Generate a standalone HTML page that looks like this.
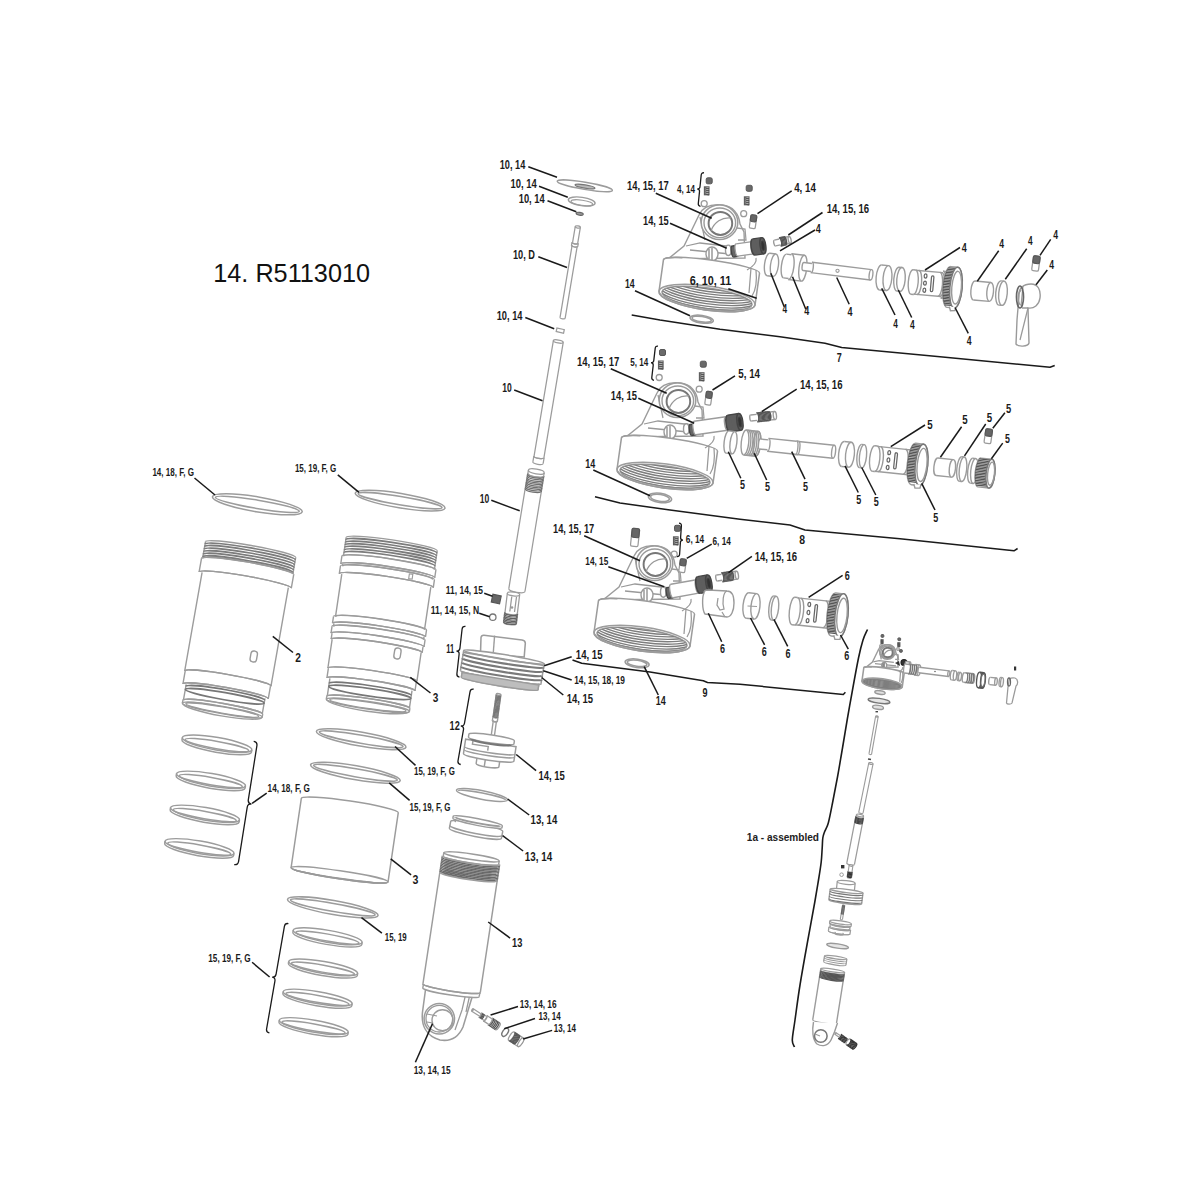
<!DOCTYPE html>
<html><head><meta charset="utf-8"><style>
html,body{margin:0;padding:0;background:#fff;}
svg{display:block;font-family:"Liberation Sans",sans-serif;}
.mini *{vector-effect:non-scaling-stroke;}
</style></head><body>
<svg width="1200" height="1200" viewBox="0 0 1200 1200">
<rect width="1200" height="1200" fill="#fff"/>
<text x="213.3" y="281.7" font-size="25" font-family="Liberation Sans" fill="#111" textLength="156.7" lengthAdjust="spacingAndGlyphs">14. R5113010</text>
<ellipse cx="584.8" cy="185.8" rx="28.0" ry="3.6" transform="rotate(9.5 584.8 185.8)" stroke="#9c9c9c" stroke-width="1.40" fill="none"/>
<ellipse cx="585.0" cy="186.5" rx="10.0" ry="1.6" transform="rotate(9.5 585.0 186.5)" stroke="#777" stroke-width="1.40" fill="#bbb"/>
<ellipse cx="581.7" cy="201.5" rx="13.5" ry="4.2" transform="rotate(8 581.7 201.5)" stroke="#9c9c9c" stroke-width="1.40" fill="none"/>
<ellipse cx="581.9" cy="202.8" rx="11.0" ry="2.6" transform="rotate(8 581.9 202.8)" stroke="#9c9c9c" stroke-width="1.12" fill="none"/>
<ellipse cx="579.7" cy="213.8" rx="3.6" ry="1.4" transform="rotate(10 579.7 213.8)" stroke="#666" stroke-width="1.12" fill="#999"/>
<g transform="translate(577.8,227.0) rotate(9.5)" stroke="#9c9c9c" stroke-width="1.26" fill="none">
<path d="M-2.6,0.0 L-2.6,16.0 L-3.2,16.0 L-3.2,19.0 L-2.6,19.0 L-2.6,92.0 L2.6,92.0 L2.6,19.0 L3.2,19.0 L3.2,16.0 L2.6,16.0 L2.6,0.0 Z" fill="#fff" stroke="none"/>
<ellipse cx="0" cy="0" rx="2.6" ry="1.04" fill="#fff" stroke="none"/>
<ellipse cx="0" cy="92" rx="2.6" ry="1.04" fill="#fff" stroke="none"/>
<ellipse cx="0" cy="0" rx="2.6" ry="1.04"/>
<path d="M-2.6,0 L-2.6,16 M2.6,0 L2.6,16"/>
<path d="M-2.6,16 A2.6,1.04 0 0 0 2.6,16"/>
<path d="M-3.2,16 L-3.2,19 M3.2,16 L3.2,19"/>
<path d="M-3.2,19 A3.2,1.28 0 0 0 3.2,19"/>
<path d="M-3.2,16 A3.2,1.28 0 0 0 3.2,16"/>
<path d="M-2.6,19 L-2.6,92 M2.6,19 L2.6,92"/>
<path d="M-2.6,92 A2.6,1.04 0 0 0 2.6,92"/>
<path d="M-3.2,19 A3.2,1.28 0 0 0 3.2,19"/>
</g>
<rect x="556.5" y="328.8" width="7.5" height="3.6" rx="0" transform="rotate(12 560.2 330.6)" stroke="#9c9c9c" stroke-width="1.26" fill="none"/>
<g transform="translate(558.3,341.5) rotate(9.5)" stroke="#9c9c9c" stroke-width="1.26" fill="none">
<path d="M-5.0,0.0 L-5.0,117.0 L-5.2,117.0 L-5.2,123.0 L5.2,123.0 L5.2,117.0 L5.0,117.0 L5.0,0.0 Z" fill="#fff" stroke="none"/>
<ellipse cx="0" cy="0" rx="5" ry="1.50" fill="#fff" stroke="none"/>
<ellipse cx="0" cy="123" rx="5.2" ry="1.56" fill="#fff" stroke="none"/>
<ellipse cx="0" cy="0" rx="5" ry="1.50"/>
<path d="M-5,0 L-5,117 M5,0 L5,117"/>
<path d="M-5,117 A5,1.50 0 0 0 5,117"/>
<path d="M-5.2,117 L-5.2,123 M5.2,117 L5.2,123"/>
<path d="M-5.2,123 A5.2,1.56 0 0 0 5.2,123"/>
<path d="M-5.2,117 A5.2,1.56 0 0 0 5.2,117"/>
</g>
<g transform="translate(536.3,471.5) rotate(9.3)" stroke="#9c9c9c" stroke-width="1.26" fill="none">
<path d="M-8.0,0.0 L-8.0,3.0 L-8.2,3.0 L-8.2,120.0 L8.2,120.0 L8.2,3.0 L8.0,3.0 L8.0,0.0 Z" fill="#fff" stroke="none"/>
<ellipse cx="0" cy="0" rx="8" ry="2.40" fill="#fff" stroke="none"/>
<ellipse cx="0" cy="120" rx="8.2" ry="2.46" fill="#fff" stroke="none"/>
<ellipse cx="0" cy="0" rx="8" ry="2.40"/>
<path d="M-8,0 L-8,3 M8,0 L8,3"/>
<path d="M-8,3 A8,2.40 0 0 0 8,3"/>
<path d="M-8.2,3 L-8.2,120 M8.2,3 L8.2,120"/>
<path d="M-8.2,120 A8.2,2.46 0 0 0 8.2,120"/>
<path d="M-8.2,3 A8.2,2.46 0 0 0 8.2,3"/>
<path d="M-8.2,4.00 A8.2,2.46 0 0 0 8.2,4.00" stroke="#707070"/>
<path d="M-8.2,5.60 A8.2,2.46 0 0 0 8.2,5.60" stroke="#707070"/>
<path d="M-8.2,7.20 A8.2,2.46 0 0 0 8.2,7.20" stroke="#707070"/>
<path d="M-8.2,8.80 A8.2,2.46 0 0 0 8.2,8.80" stroke="#707070"/>
<path d="M-8.2,10.40 A8.2,2.46 0 0 0 8.2,10.40" stroke="#707070"/>
<path d="M-8.2,12.00 A8.2,2.46 0 0 0 8.2,12.00" stroke="#707070"/>
<path d="M-8.2,13.60 A8.2,2.46 0 0 0 8.2,13.60" stroke="#707070"/>
<path d="M-8.2,15.20 A8.2,2.46 0 0 0 8.2,15.20" stroke="#707070"/>
<path d="M-8.2,16.80 A8.2,2.46 0 0 0 8.2,16.80" stroke="#707070"/>
<path d="M-8.2,18.40 A8.2,2.46 0 0 0 8.2,18.40" stroke="#707070"/>
</g>
<g transform="translate(513.5,594.0) rotate(7)" stroke="#9c9c9c" stroke-width="1.26" fill="none">
<path d="M-6.2,0.0 L-6.2,19.0 L-6.5,19.0 L-6.5,29.0 L6.5,29.0 L6.5,19.0 L6.2,19.0 L6.2,0.0 Z" fill="#fff" stroke="none"/>
<ellipse cx="0" cy="0" rx="6.2" ry="1.86" fill="#fff" stroke="none"/>
<ellipse cx="0" cy="29" rx="6.5" ry="1.95" fill="#fff" stroke="none"/>
<ellipse cx="0" cy="0" rx="6.2" ry="1.86"/>
<path d="M-6.2,0 L-6.2,19 M6.2,0 L6.2,19"/>
<path d="M-6.2,19 A6.2,1.86 0 0 0 6.2,19"/>
<path d="M-6.5,19 L-6.5,29 M6.5,19 L6.5,29"/>
<path d="M-6.5,29 A6.5,1.95 0 0 0 6.5,29"/>
<path d="M-6.5,19 A6.5,1.95 0 0 0 6.5,19"/>
<path d="M-6.5,19.50 A6.5,1.95 0 0 0 6.5,19.50" stroke="#606060"/>
<path d="M-6.5,21.00 A6.5,1.95 0 0 0 6.5,21.00" stroke="#606060"/>
<path d="M-6.5,22.50 A6.5,1.95 0 0 0 6.5,22.50" stroke="#606060"/>
<path d="M-6.5,24.00 A6.5,1.95 0 0 0 6.5,24.00" stroke="#606060"/>
<path d="M-6.5,25.50 A6.5,1.95 0 0 0 6.5,25.50" stroke="#606060"/>
<path d="M-6.5,27.00 A6.5,1.95 0 0 0 6.5,27.00" stroke="#606060"/>
<path d="M-6.5,28.50 A6.5,1.95 0 0 0 6.5,28.50" stroke="#606060"/>
</g>
<rect x="492.0" y="595.0" width="8.5" height="8.0" rx="0" transform="rotate(12 496.2 599.0)" stroke="#555" stroke-width="1.12" fill="#666"/>
<circle cx="492.8" cy="617.2" r="3.2" stroke="#777" stroke-width="1.26" fill="none"/>
<path d="M480.5,653.5 L481,637.5 Q481.3,635 484,635.2 L522,640 Q525.5,640.6 525.3,643.5 L524.2,657 Z" fill="#fff" stroke="#9c9c9c" stroke-width="1.54"/>
<path d="M494.6,635.6 L493.3,652.5" stroke="#9c9c9c" stroke-width="1.40"/>
<g transform="translate(504.0,657.0) rotate(9.3)" stroke="#9c9c9c" stroke-width="1.54" fill="none">
<path d="M-40.8,0.0 L-40.8,20.5 L-38.8,20.5 L-38.8,27.0 L38.8,27.0 L38.8,20.5 L40.8,20.5 L40.8,0.0 Z" fill="#fff" stroke="none"/>
<ellipse cx="0" cy="0" rx="40.8" ry="2.45" fill="#fff" stroke="none"/>
<ellipse cx="0" cy="27" rx="38.8" ry="2.33" fill="#fff" stroke="none"/>
<ellipse cx="0" cy="0" rx="40.8" ry="2.45"/>
<path d="M-40.8,0 L-40.8,20.5 M40.8,0 L40.8,20.5"/>
<path d="M-40.8,20.5 A40.8,2.45 0 0 0 40.8,20.5"/>
<path d="M-38.8,20.5 L-38.8,27 M38.8,20.5 L38.8,27"/>
<path d="M-38.8,27 A38.8,2.33 0 0 0 38.8,27"/>
<path d="M-40.8,20.5 A40.8,2.45 0 0 0 40.8,20.5"/>
<path d="M-40.8,4.00 A40.8,2.45 0 0 0 40.8,4.00" stroke="#7a7a7a" stroke-width="2.10"/>
<path d="M-40.8,8.20 A40.8,2.45 0 0 0 40.8,8.20" stroke="#7a7a7a" stroke-width="2.10"/>
<path d="M-40.8,12.40 A40.8,2.45 0 0 0 40.8,12.40" stroke="#7a7a7a" stroke-width="2.10"/>
<path d="M-40.8,16.60 A40.8,2.45 0 0 0 40.8,16.60" stroke="#7a7a7a" stroke-width="2.10"/>
</g>
<g transform="translate(504,657) rotate(9.3)"><path d="M-38.8,22 L38.8,22 L38.8,27 A38.8,2.3 0 0 1 -38.8,27 Z" fill="#bdbdbd" stroke="#9c9c9c" stroke-width="1.40"/><path d="M-40.8,2 L40.8,2" stroke="#9a9a9a" stroke-width="1.54"/></g>
<g transform="translate(498.6,694.5) rotate(8)" stroke="#9c9c9c" stroke-width="1.40" fill="none">
<path d="M-2.3,0.0 L-2.3,22.5 L-2.5,22.5 L-2.5,26.5 L-1.6,26.5 L-1.6,41.0 L1.6,41.0 L1.6,26.5 L2.5,26.5 L2.5,22.5 L2.3,22.5 L2.3,0.0 Z" fill="#fff" stroke="none"/>
<ellipse cx="0" cy="0" rx="2.3" ry="0.92" fill="#fff" stroke="none"/>
<ellipse cx="0" cy="41" rx="1.6" ry="0.64" fill="#fff" stroke="none"/>
<ellipse cx="0" cy="0" rx="2.3" ry="0.92"/>
<path d="M-2.3,0 L-2.3,22.5 M2.3,0 L2.3,22.5"/>
<path d="M-2.3,22.5 A2.3,0.92 0 0 0 2.3,22.5"/>
<path d="M-2.5,22.5 L-2.5,26.5 M2.5,22.5 L2.5,26.5"/>
<path d="M-2.5,26.5 A2.5,1.00 0 0 0 2.5,26.5"/>
<path d="M-2.5,22.5 A2.5,1.00 0 0 0 2.5,22.5"/>
<path d="M-1.6,26.5 L-1.6,41 M1.6,26.5 L1.6,41"/>
<path d="M-1.6,41 A1.6,0.64 0 0 0 1.6,41"/>
<path d="M-2.5,26.5 A2.5,1.00 0 0 0 2.5,26.5"/>
<path d="M-2.3,1.00 A2.3,0.92 0 0 0 2.3,1.00" stroke="#777"/>
<path d="M-2.3,2.10 A2.3,0.92 0 0 0 2.3,2.10" stroke="#777"/>
<path d="M-2.3,3.20 A2.3,0.92 0 0 0 2.3,3.20" stroke="#777"/>
<path d="M-2.3,4.30 A2.3,0.92 0 0 0 2.3,4.30" stroke="#777"/>
<path d="M-2.3,5.40 A2.3,0.92 0 0 0 2.3,5.40" stroke="#777"/>
<path d="M-2.3,6.50 A2.3,0.92 0 0 0 2.3,6.50" stroke="#777"/>
<path d="M-2.3,7.60 A2.3,0.92 0 0 0 2.3,7.60" stroke="#777"/>
<path d="M-2.3,8.70 A2.3,0.92 0 0 0 2.3,8.70" stroke="#777"/>
<path d="M-2.3,9.80 A2.3,0.92 0 0 0 2.3,9.80" stroke="#777"/>
<path d="M-2.3,10.90 A2.3,0.92 0 0 0 2.3,10.90" stroke="#777"/>
<path d="M-2.3,12.00 A2.3,0.92 0 0 0 2.3,12.00" stroke="#777"/>
<path d="M-2.3,13.10 A2.3,0.92 0 0 0 2.3,13.10" stroke="#777"/>
<path d="M-2.3,14.20 A2.3,0.92 0 0 0 2.3,14.20" stroke="#777"/>
<path d="M-2.3,15.30 A2.3,0.92 0 0 0 2.3,15.30" stroke="#777"/>
<path d="M-2.3,16.40 A2.3,0.92 0 0 0 2.3,16.40" stroke="#777"/>
<path d="M-2.3,17.50 A2.3,0.92 0 0 0 2.3,17.50" stroke="#777"/>
<path d="M-2.3,18.60 A2.3,0.92 0 0 0 2.3,18.60" stroke="#777"/>
<path d="M-2.3,19.70 A2.3,0.92 0 0 0 2.3,19.70" stroke="#777"/>
<path d="M-2.3,20.80 A2.3,0.92 0 0 0 2.3,20.80" stroke="#777"/>
<path d="M-2.3,21.90 A2.3,0.92 0 0 0 2.3,21.90" stroke="#777"/>
</g>
<g transform="translate(491.5,738.5) rotate(8.5)" stroke="#9c9c9c" stroke-width="1.47" fill="#fff">
<path d="M-11.5,19 L-11.5,27 A11.5,2 0 0 0 11.5,27 L11.5,19 Z"/>
<path d="M-3,20 L-3,28.5" fill="none"/>
<path d="M-25.5,4.5 L-25.5,19 A25.5,3 0 0 0 25.5,19 L25.5,4.5 Z"/>
<path d="M-25.5,12 A25.5,2.5 0 0 0 25.5,12 M-25.5,15 A25.5,2.5 0 0 0 25.5,15" fill="none"/>
<path d="M-18,5 L-18,8.5 L-2,8.5 L-2,12.5" fill="none"/>
<path d="M-23,-1 L-23,2 A23,2.6 0 0 0 23,2 L23,-1 A23,2.6 0 0 0 -23,-1 Z"/>
<path d="M-20,3.5 A20,2 0 0 0 20,3.5" stroke="#777" stroke-width="1.96" fill="none"/>
</g>
<g transform="translate(482,795) rotate(11)" stroke="#9c9c9c" stroke-width="1.47" fill="none">
<ellipse cx="0" cy="0" rx="26" ry="4.3"/><path d="M-24,0.5 A24,2.6 0 0 1 24,0.5"/>
</g>
<g transform="translate(477.5,822.5) rotate(11)" stroke="#9c9c9c" stroke-width="1.47" fill="#fff">
<path d="M-26.5,4 L-26.5,11 A26.5,3.2 0 0 0 26.5,11 L26.5,4 A26.5,3.2 0 0 0 -26.5,4 Z"/>
<path d="M-26.5,8 A26.5,3.2 0 0 0 26.5,8" fill="none"/>
<path d="M-25,-1.5 L-25,0.5 A25,2.4 0 0 0 25,0.5 L25,-1.5 A25,2.4 0 0 0 -25,-1.5 Z"/>
<path d="M-23,-1 A23,1.6 0 0 0 23,-1" stroke="#9a9a9a" stroke-width="1.82" fill="none"/>
<path d="M-22,1 L-22,4" fill="none"/>
</g>
<path d="M426,986 L422.5,1012 C421,1025 426,1036 440,1040 C452,1042 459,1036 463,1027 L473,994 Z" stroke="#9c9c9c" stroke-width="1.54" fill="#fff"/>
<path d="M466,993 L462,1010 L455,1030 M470,994 L466,1012" stroke="#999" stroke-width="1.26" fill="none"/>
<g transform="translate(471.5,856.8) rotate(8.6)" stroke="#9c9c9c" stroke-width="1.47" fill="none">
<path d="M-28.0,0.0 L-28.0,3.5 L-29.0,3.5 L-29.0,20.0 L-29.0,20.0 L-29.0,133.0 L-28.5,133.0 L-28.5,137.0 L28.5,137.0 L28.5,133.0 L29.0,133.0 L29.0,20.0 L29.0,20.0 L29.0,3.5 L28.0,3.5 L28.0,0.0 Z" fill="#fff" stroke="none"/>
<ellipse cx="0" cy="0" rx="28" ry="2.80" fill="#fff" stroke="none"/>
<ellipse cx="0" cy="137" rx="28.5" ry="2.85" fill="#fff" stroke="none"/>
<ellipse cx="0" cy="0" rx="28" ry="2.80"/>
<path d="M-28,0 L-28,3.5 M28,0 L28,3.5"/>
<path d="M-28,3.5 A28,2.80 0 0 0 28,3.5"/>
<path d="M-29,3.5 L-29,20 M29,3.5 L29,20"/>
<path d="M-29,20 A29,2.90 0 0 0 29,20"/>
<path d="M-29,3.5 A29,2.90 0 0 0 29,3.5"/>
<path d="M-29,20 L-29,133 M29,20 L29,133"/>
<path d="M-29,133 A29,2.90 0 0 0 29,133"/>
<path d="M-28.5,133 L-28.5,137 M28.5,133 L28.5,137"/>
<path d="M-28.5,137 A28.5,2.85 0 0 0 28.5,137"/>
<path d="M-29,133 A29,2.90 0 0 0 29,133"/>
<path d="M-29,5.00 A29,2.90 0 0 0 29,5.00" stroke="#6a6a6a"/>
<path d="M-29,6.50 A29,2.90 0 0 0 29,6.50" stroke="#6a6a6a"/>
<path d="M-29,8.00 A29,2.90 0 0 0 29,8.00" stroke="#6a6a6a"/>
<path d="M-29,9.50 A29,2.90 0 0 0 29,9.50" stroke="#6a6a6a"/>
<path d="M-29,11.00 A29,2.90 0 0 0 29,11.00" stroke="#6a6a6a"/>
<path d="M-29,12.50 A29,2.90 0 0 0 29,12.50" stroke="#6a6a6a"/>
<path d="M-29,14.00 A29,2.90 0 0 0 29,14.00" stroke="#6a6a6a"/>
<path d="M-29,15.50 A29,2.90 0 0 0 29,15.50" stroke="#6a6a6a"/>
<path d="M-29,17.00 A29,2.90 0 0 0 29,17.00" stroke="#6a6a6a"/>
<path d="M-29,18.50 A29,2.90 0 0 0 29,18.50" stroke="#6a6a6a"/>
</g>
<circle cx="439.3" cy="1018.7" r="15.2" stroke="#9c9c9c" stroke-width="1.54" fill="#fff"/>
<circle cx="439.3" cy="1018.7" r="13.3" stroke="#999" stroke-width="1.26" fill="none"/>
<circle cx="442.5" cy="1020.2" r="10.5" stroke="#9c9c9c" stroke-width="1.40" fill="none"/>
<path d="M427,1014 L437,1016 M427,1022 L433,1023" stroke="#999" stroke-width="1.12"/>
<g transform="translate(472.5,1010.0) rotate(-57)" stroke="#9c9c9c" stroke-width="1.26" fill="none">
<path d="M-1.4,0.0 L-1.4,9.0 L-2.4,9.0 L-2.4,15.0 L-3.2,15.0 L-3.2,21.0 L-4.0,21.0 L-4.0,30.0 L4.0,30.0 L4.0,21.0 L3.2,21.0 L3.2,15.0 L2.4,15.0 L2.4,9.0 L1.4,9.0 L1.4,0.0 Z" fill="#fff" stroke="none"/>
<ellipse cx="0" cy="0" rx="1.4" ry="0.56" fill="#fff" stroke="none"/>
<ellipse cx="0" cy="30" rx="4.0" ry="1.60" fill="#fff" stroke="none"/>
<ellipse cx="0" cy="0" rx="1.4" ry="0.56"/>
<path d="M-1.4,0 L-1.4,9 M1.4,0 L1.4,9"/>
<path d="M-1.4,9 A1.4,0.56 0 0 0 1.4,9"/>
<path d="M-2.4,9 L-2.4,15 M2.4,9 L2.4,15"/>
<path d="M-2.4,15 A2.4,0.96 0 0 0 2.4,15"/>
<path d="M-2.4,9 A2.4,0.96 0 0 0 2.4,9"/>
<path d="M-3.2,15 L-3.2,21 M3.2,15 L3.2,21"/>
<path d="M-3.2,21 A3.2,1.28 0 0 0 3.2,21"/>
<path d="M-3.2,15 A3.2,1.28 0 0 0 3.2,15"/>
<path d="M-4.0,21 L-4.0,30 M4.0,21 L4.0,30"/>
<path d="M-4.0,30 A4.0,1.60 0 0 0 4.0,30"/>
<path d="M-4.0,21 A4.0,1.60 0 0 0 4.0,21"/>
<path d="M-2.4,10.00 A2.4,0.96 0 0 0 2.4,10.00" stroke="#555"/>
<path d="M-2.4,11.00 A2.4,0.96 0 0 0 2.4,11.00" stroke="#555"/>
<path d="M-2.4,12.00 A2.4,0.96 0 0 0 2.4,12.00" stroke="#555"/>
<path d="M-4.0,22.00 A4.0,1.60 0 0 0 4.0,22.00" stroke="#555"/>
<path d="M-4.0,23.60 A4.0,1.60 0 0 0 4.0,23.60" stroke="#555"/>
<path d="M-4.0,25.20 A4.0,1.60 0 0 0 4.0,25.20" stroke="#555"/>
<path d="M-4.0,26.80 A4.0,1.60 0 0 0 4.0,26.80" stroke="#555"/>
<path d="M-4.0,28.40 A4.0,1.60 0 0 0 4.0,28.40" stroke="#555"/>
</g>
<ellipse cx="505.2" cy="1032.3" rx="2.6" ry="4.6" transform="rotate(33 505.2 1032.3)" stroke="#777" stroke-width="1.40" fill="#fff"/>
<g transform="translate(511.5,1036.3) rotate(-57)" stroke="#9c9c9c" stroke-width="1.26" fill="none">
<path d="M-5.0,0.0 L-5.0,11.0 L5.0,11.0 L5.0,0.0 Z" fill="#fff" stroke="none"/>
<ellipse cx="0" cy="0" rx="5" ry="1.75" fill="#fff" stroke="none"/>
<ellipse cx="0" cy="11" rx="5" ry="1.75" fill="#fff" stroke="none"/>
<ellipse cx="0" cy="0" rx="5" ry="1.75"/>
<path d="M-5,0 L-5,11 M5,0 L5,11"/>
<path d="M-5,11 A5,1.75 0 0 0 5,11"/>
<path d="M-5,0.50 A5,1.75 0 0 0 5,0.50" stroke="#555"/>
<path d="M-5,1.40 A5,1.75 0 0 0 5,1.40" stroke="#555"/>
<path d="M-5,2.30 A5,1.75 0 0 0 5,2.30" stroke="#555"/>
<path d="M-5,3.20 A5,1.75 0 0 0 5,3.20" stroke="#555"/>
<path d="M-5,4.10 A5,1.75 0 0 0 5,4.10" stroke="#555"/>
<path d="M-5,5.00 A5,1.75 0 0 0 5,5.00" stroke="#555"/>
<path d="M-5,5.90 A5,1.75 0 0 0 5,5.90" stroke="#555"/>
</g>
<ellipse cx="520.7" cy="1042.3" rx="1.8" ry="5" transform="rotate(33 520.7 1042.3)" fill="#fff" stroke="#999" stroke-width="1.26"/>
<g transform="translate(257.3,504.3) rotate(9.5)" stroke="#9c9c9c" stroke-width="1.54" fill="none">
<ellipse cx="0" cy="0" rx="45.5" ry="7.5"/>
<ellipse cx="0" cy="0" rx="42.5" ry="4.20"/>
</g>
<g transform="translate(400.1,500.6) rotate(9.5)" stroke="#9c9c9c" stroke-width="1.54" fill="none">
<ellipse cx="0" cy="0" rx="45.5" ry="7.3"/>
<ellipse cx="0" cy="0" rx="42.5" ry="4.10"/>
</g>
<g transform="translate(250.6,549.5) rotate(10)" stroke="#9c9c9c" stroke-width="1.40" fill="none">
<path d="M-45.8,0.0 L-45.8,17.0 L-46.8,17.0 L-46.8,31.0 L-43.8,31.0 L-43.8,131.0 L-43.3,131.0 L-43.3,144.0 L-40.0,144.0 L-40.0,160.0 L-40.5,160.0 L-40.5,163.0 L40.5,163.0 L40.5,160.0 L40.0,160.0 L40.0,144.0 L43.3,144.0 L43.3,131.0 L43.8,131.0 L43.8,31.0 L46.8,31.0 L46.8,17.0 L45.8,17.0 L45.8,0.0 Z" fill="#fff" stroke="none"/>
<ellipse cx="0" cy="0" rx="45.8" ry="4.12" fill="#fff" stroke="none"/>
<ellipse cx="0" cy="163" rx="40.5" ry="3.65" fill="#fff" stroke="none"/>
<path d="M-45.8,0 A45.8,4.12 0 0 1 45.8,0"/>
<path d="M-45.8,0 L-45.8,17 M45.8,0 L45.8,17"/>
<path d="M-45.8,17 A45.8,4.12 0 0 1 45.8,17"/>
<path d="M-46.8,17 L-46.8,31 M46.8,17 L46.8,31"/>
<path d="M-46.8,31 A46.8,4.21 0 0 1 46.8,31"/>
<path d="M-46.8,17 A46.8,4.21 0 0 1 46.8,17"/>
<path d="M-43.8,31 L-43.8,131 M43.8,31 L43.8,131"/>
<path d="M-43.8,131 A43.8,3.94 0 0 1 43.8,131"/>
<path d="M-46.8,31 A46.8,4.21 0 0 1 46.8,31"/>
<path d="M-43.3,131 L-43.3,144 M43.3,131 L43.3,144"/>
<path d="M-43.3,144 A43.3,3.90 0 0 1 43.3,144"/>
<path d="M-43.8,131 A43.8,3.94 0 0 1 43.8,131"/>
<path d="M-40,144 L-40,160 M40,144 L40,160"/>
<path d="M-40,160 A40,3.60 0 0 1 40,160"/>
<path d="M-43.3,144 A43.3,3.90 0 0 1 43.3,144"/>
<path d="M-40.5,160 L-40.5,163 M40.5,160 L40.5,163"/>
<ellipse cx="0" cy="163" rx="40.5" ry="3.65"/>
<path d="M-40.5,160 A40.5,3.65 0 0 1 40.5,160"/>
<path d="M-45.8,2.50 A45.8,4.12 0 0 1 45.8,2.50" stroke="#7c7c7c" stroke-width="1.61"/>
<path d="M-45.8,5.10 A45.8,4.12 0 0 1 45.8,5.10" stroke="#7c7c7c" stroke-width="1.61"/>
<path d="M-45.8,7.70 A45.8,4.12 0 0 1 45.8,7.70" stroke="#7c7c7c" stroke-width="1.61"/>
<path d="M-45.8,10.30 A45.8,4.12 0 0 1 45.8,10.30" stroke="#7c7c7c" stroke-width="1.61"/>
<path d="M-45.8,12.90 A45.8,4.12 0 0 1 45.8,12.90" stroke="#7c7c7c" stroke-width="1.61"/>
<path d="M-45.8,15.50 A45.8,4.12 0 0 1 45.8,15.50" stroke="#7c7c7c" stroke-width="1.61"/>
</g>
<g transform="translate(250.6,549.5) rotate(10)" stroke="#777" stroke-width="1.68" fill="none">
<path d="M-40,146 L-40,146 M40,146 L40,146"/>
<path d="M-40,146 A40,3.60 0 0 1 40,146"/>
<path d="M-40,149 L-40,149 M40,149 L40,149"/>
<ellipse cx="0" cy="149" rx="40" ry="3.60"/>
</g>
<g transform="translate(250.6,549.5) rotate(10)"><ellipse cx="0" cy="163" rx="37" ry="3.2" stroke="#999" stroke-width="1.26" fill="none"/><path d="M-40.5,163 A40.5,6 0 0 0 40.5,163" stroke="#9c9c9c" stroke-width="1.40" fill="none"/></g>
<rect x="250.5" y="651" width="6.5" height="11" rx="3" transform="rotate(10 253.7 656.5)" stroke="#9a9a9a" stroke-width="1.40" fill="none"/>
<g transform="translate(391.7,544.0) rotate(8.4)" stroke="#9c9c9c" stroke-width="1.40" fill="none">
<path d="M-46.0,0.0 L-46.0,19.0 L-47.5,19.0 L-47.5,27.0 L-45.5,27.0 L-45.5,29.0 L-47.5,29.0 L-47.5,37.0 L-45.0,37.0 L-45.0,80.0 L-47.0,80.0 L-47.0,87.0 L-45.5,87.0 L-45.5,90.0 L-47.0,90.0 L-47.0,97.0 L-46.0,97.0 L-46.0,103.0 L-45.0,103.0 L-45.0,132.0 L-44.5,132.0 L-44.5,142.0 L-41.5,142.0 L-41.5,160.0 L-42.0,160.0 L-42.0,163.0 L42.0,163.0 L42.0,160.0 L41.5,160.0 L41.5,142.0 L44.5,142.0 L44.5,132.0 L45.0,132.0 L45.0,103.0 L46.0,103.0 L46.0,97.0 L47.0,97.0 L47.0,90.0 L45.5,90.0 L45.5,87.0 L47.0,87.0 L47.0,80.0 L45.0,80.0 L45.0,37.0 L47.5,37.0 L47.5,29.0 L45.5,29.0 L45.5,27.0 L47.5,27.0 L47.5,19.0 L46.0,19.0 L46.0,0.0 Z" fill="#fff" stroke="none"/>
<ellipse cx="0" cy="0" rx="46" ry="4.14" fill="#fff" stroke="none"/>
<ellipse cx="0" cy="163" rx="42" ry="3.78" fill="#fff" stroke="none"/>
<path d="M-46,0 A46,4.14 0 0 1 46,0"/>
<path d="M-46,0 L-46,19 M46,0 L46,19"/>
<path d="M-46,19 A46,4.14 0 0 1 46,19"/>
<path d="M-47.5,19 L-47.5,27 M47.5,19 L47.5,27"/>
<path d="M-47.5,27 A47.5,4.27 0 0 1 47.5,27"/>
<path d="M-47.5,19 A47.5,4.27 0 0 1 47.5,19"/>
<path d="M-45.5,27 L-45.5,29 M45.5,27 L45.5,29"/>
<path d="M-45.5,29 A45.5,4.09 0 0 1 45.5,29"/>
<path d="M-47.5,27 A47.5,4.27 0 0 1 47.5,27"/>
<path d="M-47.5,29 L-47.5,37 M47.5,29 L47.5,37"/>
<path d="M-47.5,37 A47.5,4.27 0 0 1 47.5,37"/>
<path d="M-47.5,29 A47.5,4.27 0 0 1 47.5,29"/>
<path d="M-45,37 L-45,80 M45,37 L45,80"/>
<path d="M-45,80 A45,4.05 0 0 1 45,80"/>
<path d="M-47.5,37 A47.5,4.27 0 0 1 47.5,37"/>
<path d="M-47,80 L-47,87 M47,80 L47,87"/>
<path d="M-47,87 A47,4.23 0 0 1 47,87"/>
<path d="M-47,80 A47,4.23 0 0 1 47,80"/>
<path d="M-45.5,87 L-45.5,90 M45.5,87 L45.5,90"/>
<path d="M-45.5,90 A45.5,4.09 0 0 1 45.5,90"/>
<path d="M-47,87 A47,4.23 0 0 1 47,87"/>
<path d="M-47,90 L-47,97 M47,90 L47,97"/>
<path d="M-47,97 A47,4.23 0 0 1 47,97"/>
<path d="M-47,90 A47,4.23 0 0 1 47,90"/>
<path d="M-46,97 L-46,103 M46,97 L46,103"/>
<path d="M-46,103 A46,4.14 0 0 1 46,103"/>
<path d="M-47,97 A47,4.23 0 0 1 47,97"/>
<path d="M-45,103 L-45,132 M45,103 L45,132"/>
<path d="M-45,132 A45,4.05 0 0 1 45,132"/>
<path d="M-46,103 A46,4.14 0 0 1 46,103"/>
<path d="M-44.5,132 L-44.5,142 M44.5,132 L44.5,142"/>
<path d="M-44.5,142 A44.5,4.00 0 0 1 44.5,142"/>
<path d="M-45,132 A45,4.05 0 0 1 45,132"/>
<path d="M-41.5,142 L-41.5,160 M41.5,142 L41.5,160"/>
<path d="M-41.5,160 A41.5,3.73 0 0 1 41.5,160"/>
<path d="M-44.5,142 A44.5,4.00 0 0 1 44.5,142"/>
<path d="M-42,160 L-42,163 M42,160 L42,163"/>
<ellipse cx="0" cy="163" rx="42" ry="3.78"/>
<path d="M-42,160 A42,3.78 0 0 1 42,160"/>
<path d="M-46,2.50 A46,4.14 0 0 1 46,2.50" stroke="#7c7c7c" stroke-width="1.61"/>
<path d="M-46,5.10 A46,4.14 0 0 1 46,5.10" stroke="#7c7c7c" stroke-width="1.61"/>
<path d="M-46,7.70 A46,4.14 0 0 1 46,7.70" stroke="#7c7c7c" stroke-width="1.61"/>
<path d="M-46,10.30 A46,4.14 0 0 1 46,10.30" stroke="#7c7c7c" stroke-width="1.61"/>
<path d="M-46,12.90 A46,4.14 0 0 1 46,12.90" stroke="#7c7c7c" stroke-width="1.61"/>
<path d="M-46,15.50 A46,4.14 0 0 1 46,15.50" stroke="#7c7c7c" stroke-width="1.61"/>
</g>
<g transform="translate(391.7,544.0) rotate(8.4)" stroke="#777" stroke-width="1.68" fill="none">
<path d="M-41.5,147 L-41.5,147 M41.5,147 L41.5,147"/>
<path d="M-41.5,147 A41.5,3.73 0 0 1 41.5,147"/>
<path d="M-41.5,150 L-41.5,150 M41.5,150 L41.5,150"/>
<ellipse cx="0" cy="150" rx="41.5" ry="3.73"/>
</g>
<g transform="translate(391.7,544) rotate(8.4)"><ellipse cx="0" cy="163" rx="38.5" ry="3.2" stroke="#999" stroke-width="1.26" fill="none"/><path d="M-42,163 A42,6 0 0 0 42,163" stroke="#9c9c9c" stroke-width="1.40" fill="none"/></g>
<rect x="394.2" y="648" width="6.5" height="11" rx="3" transform="rotate(9 397.4 653.6)" stroke="#9a9a9a" stroke-width="1.40" fill="none"/>
<rect x="409.0" y="574.0" width="3.5" height="5.0" rx="0" transform="rotate(8 410.8 576.5)" stroke="#999" stroke-width="1.12" fill="none"/>
<g transform="translate(349.8,805.5) rotate(8.4)" stroke="#9c9c9c" stroke-width="1.47" fill="none">
<path d="M-49,0 A49,4.5 0 0 1 49,0 L49,70 A49,4 0 0 1 -49,70 Z" fill="#fff"/>
<ellipse cx="0" cy="70" rx="49" ry="4"/>
<path d="M-47,71 A47,2.6 0 0 0 47,71" stroke="#999"/>
</g>
<g transform="translate(217.1,743.8) rotate(10)" stroke="#9c9c9c" stroke-width="1.47" fill="none">
<ellipse cx="0" cy="0" rx="35.3" ry="6.3"/>
<ellipse cx="0" cy="1.3" rx="32.3" ry="3.70"/>
<path d="M-35.3,0 L-35.3,2.2 A35.3,6.3 0 0 0 35.3,2.2 L35.3,0"/>
</g>
<g transform="translate(211.0,779.8) rotate(10)" stroke="#9c9c9c" stroke-width="1.47" fill="none">
<ellipse cx="0" cy="0" rx="35" ry="6.3"/>
<ellipse cx="0" cy="1.3" rx="32.0" ry="3.70"/>
<path d="M-35,0 L-35,2.2 A35,6.3 0 0 0 35,2.2 L35,0"/>
</g>
<g transform="translate(205.0,813.8) rotate(10)" stroke="#9c9c9c" stroke-width="1.47" fill="none">
<ellipse cx="0" cy="0" rx="35" ry="6.3"/>
<ellipse cx="0" cy="1.3" rx="32.0" ry="3.70"/>
<path d="M-35,0 L-35,2.2 A35,6.3 0 0 0 35,2.2 L35,0"/>
</g>
<g transform="translate(199.5,847.3) rotate(10)" stroke="#9c9c9c" stroke-width="1.47" fill="none">
<ellipse cx="0" cy="0" rx="35" ry="6.3"/>
<ellipse cx="0" cy="1.3" rx="32.0" ry="3.70"/>
<path d="M-35,0 L-35,2.2 A35,6.3 0 0 0 35,2.2 L35,0"/>
</g>
<g transform="translate(361.2,739.2) rotate(10)" stroke="#9c9c9c" stroke-width="1.54" fill="none">
<ellipse cx="0" cy="0" rx="45.5" ry="7.0"/>
<ellipse cx="0" cy="0" rx="42.5" ry="4.00"/>
</g>
<g transform="translate(355.4,772.7) rotate(10)" stroke="#9c9c9c" stroke-width="1.54" fill="none">
<ellipse cx="0" cy="0" rx="45.5" ry="7.0"/>
<ellipse cx="0" cy="0" rx="42.5" ry="4.00"/>
</g>
<g transform="translate(332.8,907.4) rotate(10)" stroke="#9c9c9c" stroke-width="1.54" fill="none">
<ellipse cx="0" cy="0" rx="46" ry="7.0"/>
<ellipse cx="0" cy="0" rx="43.0" ry="4.00"/>
</g>
<g transform="translate(327.7,936.3) rotate(10)" stroke="#9c9c9c" stroke-width="1.47" fill="none">
<ellipse cx="0" cy="0" rx="35" ry="6.0"/>
<ellipse cx="0" cy="1.3" rx="32.0" ry="3.50"/>
<path d="M-35,0 L-35,2.2 A35,6.0 0 0 0 35,2.2 L35,0"/>
</g>
<g transform="translate(323.2,967.4) rotate(10)" stroke="#9c9c9c" stroke-width="1.47" fill="none">
<ellipse cx="0" cy="0" rx="35" ry="6.0"/>
<ellipse cx="0" cy="1.3" rx="32.0" ry="3.50"/>
<path d="M-35,0 L-35,2.2 A35,6.0 0 0 0 35,2.2 L35,0"/>
</g>
<g transform="translate(317.7,997.6) rotate(10)" stroke="#9c9c9c" stroke-width="1.47" fill="none">
<ellipse cx="0" cy="0" rx="35" ry="6.0"/>
<ellipse cx="0" cy="1.3" rx="32.0" ry="3.50"/>
<path d="M-35,0 L-35,2.2 A35,6.0 0 0 0 35,2.2 L35,0"/>
</g>
<g transform="translate(313.8,1026.1) rotate(10)" stroke="#9c9c9c" stroke-width="1.47" fill="none">
<ellipse cx="0" cy="0" rx="35" ry="6.0"/>
<ellipse cx="0" cy="1.3" rx="32.0" ry="3.50"/>
<path d="M-35,0 L-35,2.2 A35,6.0 0 0 0 35,2.2 L35,0"/>
</g>
<g transform="translate(0,0)">
<path d="M668,259 L684,246 L699,215 C703,206 712,204 722,205 C733,206 739,214 740,224 L744,232 L745,258 Z" fill="#fff" stroke="#9c9c9c" stroke-width="1.40"/>
<path d="M686,246 L700,243 L735,247 M690,250 L740,255 M700,217 L705,240" stroke="#999" stroke-width="1.26" fill="none"/>
<path d="M737,228 L745,229 L746,240 L738,240" stroke="#9c9c9c" stroke-width="1.26" fill="none"/>
<ellipse cx="719.5" cy="222.3" rx="18.3" ry="17.2" stroke="#9c9c9c" stroke-width="1.54" fill="#fff"/>
<ellipse cx="719.8" cy="222.8" rx="15.8" ry="14.8" stroke="#9a9a9a" stroke-width="1.40" fill="none"/>
<ellipse cx="720.4" cy="223.4" rx="11.8" ry="11.5" stroke="#777" stroke-width="1.96" fill="#fff"/>
<path d="M711,231 C714,222 722,217 731,218" stroke="#999" stroke-width="1.26" fill="none"/>
<ellipse cx="712" cy="254" rx="6" ry="7" stroke="#9a9a9a" stroke-width="1.40" fill="#fff"/>
<path d="M709,249 L709,259 M712,248 L712,260" stroke="#777" stroke-width="1.12"/>
<g transform="translate(711.5,266.3) rotate(8)" stroke="#9c9c9c" stroke-width="1.54" fill="none">
<clipPath id="cupclip1"><ellipse cx="0" cy="32.3" rx="45.5" ry="10.3"/></clipPath>
<path d="M-48.5,0 L-48.5,32 A48.5,12 0 0 0 48.5,32 L48.5,0 A48.5,6 0 0 0 -48.5,0 Z" fill="#fff"/>
<path d="M-48.5,0 A48.5,6 0 0 1 -30,-4.5"/>
<ellipse cx="0" cy="32" rx="48.5" ry="12"/>
<ellipse cx="0" cy="32.3" rx="45.5" ry="10.3" stroke="#9a9a9a"/>
<g clip-path="url(#cupclip1)">
<path d="M-50,11.5 A50,11.5 0 0 0 50,11.5" stroke="#7e7e7e" stroke-width="1.40"/>
<path d="M-50,13.9 A50,11.5 0 0 0 50,13.9" stroke="#7e7e7e" stroke-width="1.40"/>
<path d="M-50,16.4 A50,11.5 0 0 0 50,16.4" stroke="#7e7e7e" stroke-width="1.40"/>
<path d="M-50,18.9 A50,11.5 0 0 0 50,18.9" stroke="#7e7e7e" stroke-width="1.40"/>
<path d="M-50,21.3 A50,11.5 0 0 0 50,21.3" stroke="#7e7e7e" stroke-width="1.40"/>
<path d="M-50,23.8 A50,11.5 0 0 0 50,23.8" stroke="#7e7e7e" stroke-width="1.40"/>
<path d="M-50,26.2 A50,11.5 0 0 0 50,26.2" stroke="#7e7e7e" stroke-width="1.40"/>
<path d="M-50,28.7 A50,11.5 0 0 0 50,28.7" stroke="#7e7e7e" stroke-width="1.40"/>
<path d="M-50,31.1 A50,11.5 0 0 0 50,31.1" stroke="#7e7e7e" stroke-width="1.40"/>
</g>
</g>
<path d="M747,270 C754,266 757,262 756,258 M749,293 L751,268 M752,296 C756,290 757,280 756,270" stroke="#999" stroke-width="1.26" fill="none"/>
</g>
<g transform="translate(-42,178)">
<path d="M668,259 L684,246 L699,215 C703,206 712,204 722,205 C733,206 739,214 740,224 L744,232 L745,258 Z" fill="#fff" stroke="#9c9c9c" stroke-width="1.40"/>
<path d="M686,246 L700,243 L735,247 M690,250 L740,255 M700,217 L705,240" stroke="#999" stroke-width="1.26" fill="none"/>
<path d="M737,228 L745,229 L746,240 L738,240" stroke="#9c9c9c" stroke-width="1.26" fill="none"/>
<ellipse cx="719.5" cy="222.3" rx="18.3" ry="17.2" stroke="#9c9c9c" stroke-width="1.54" fill="#fff"/>
<ellipse cx="719.8" cy="222.8" rx="15.8" ry="14.8" stroke="#9a9a9a" stroke-width="1.40" fill="none"/>
<ellipse cx="720.4" cy="223.4" rx="11.8" ry="11.5" stroke="#777" stroke-width="1.96" fill="#fff"/>
<path d="M711,231 C714,222 722,217 731,218" stroke="#999" stroke-width="1.26" fill="none"/>
<ellipse cx="712" cy="254" rx="6" ry="7" stroke="#9a9a9a" stroke-width="1.40" fill="#fff"/>
<path d="M709,249 L709,259 M712,248 L712,260" stroke="#777" stroke-width="1.12"/>
<g transform="translate(711.5,266.3) rotate(8)" stroke="#9c9c9c" stroke-width="1.54" fill="none">
<clipPath id="cupclip2"><ellipse cx="0" cy="32.3" rx="45.5" ry="10.3"/></clipPath>
<path d="M-48.5,0 L-48.5,32 A48.5,12 0 0 0 48.5,32 L48.5,0 A48.5,6 0 0 0 -48.5,0 Z" fill="#fff"/>
<path d="M-48.5,0 A48.5,6 0 0 1 -30,-4.5"/>
<ellipse cx="0" cy="32" rx="48.5" ry="12"/>
<ellipse cx="0" cy="32.3" rx="45.5" ry="10.3" stroke="#9a9a9a"/>
<g clip-path="url(#cupclip2)">
<path d="M-50,11.5 A50,11.5 0 0 0 50,11.5" stroke="#7e7e7e" stroke-width="1.40"/>
<path d="M-50,13.9 A50,11.5 0 0 0 50,13.9" stroke="#7e7e7e" stroke-width="1.40"/>
<path d="M-50,16.4 A50,11.5 0 0 0 50,16.4" stroke="#7e7e7e" stroke-width="1.40"/>
<path d="M-50,18.9 A50,11.5 0 0 0 50,18.9" stroke="#7e7e7e" stroke-width="1.40"/>
<path d="M-50,21.3 A50,11.5 0 0 0 50,21.3" stroke="#7e7e7e" stroke-width="1.40"/>
<path d="M-50,23.8 A50,11.5 0 0 0 50,23.8" stroke="#7e7e7e" stroke-width="1.40"/>
<path d="M-50,26.2 A50,11.5 0 0 0 50,26.2" stroke="#7e7e7e" stroke-width="1.40"/>
<path d="M-50,28.7 A50,11.5 0 0 0 50,28.7" stroke="#7e7e7e" stroke-width="1.40"/>
<path d="M-50,31.1 A50,11.5 0 0 0 50,31.1" stroke="#7e7e7e" stroke-width="1.40"/>
</g>
</g>
<path d="M747,270 C754,266 757,262 756,258 M749,293 L751,268 M752,296 C756,290 757,280 756,270" stroke="#999" stroke-width="1.26" fill="none"/>
</g>
<g transform="translate(-65,341)">
<path d="M668,259 L684,246 L699,215 C703,206 712,204 722,205 C733,206 739,214 740,224 L744,232 L745,258 Z" fill="#fff" stroke="#9c9c9c" stroke-width="1.40"/>
<path d="M686,246 L700,243 L735,247 M690,250 L740,255 M700,217 L705,240" stroke="#999" stroke-width="1.26" fill="none"/>
<path d="M737,228 L745,229 L746,240 L738,240" stroke="#9c9c9c" stroke-width="1.26" fill="none"/>
<ellipse cx="719.5" cy="222.3" rx="18.3" ry="17.2" stroke="#9c9c9c" stroke-width="1.54" fill="#fff"/>
<ellipse cx="719.8" cy="222.8" rx="15.8" ry="14.8" stroke="#9a9a9a" stroke-width="1.40" fill="none"/>
<ellipse cx="720.4" cy="223.4" rx="11.8" ry="11.5" stroke="#777" stroke-width="1.96" fill="#fff"/>
<path d="M711,231 C714,222 722,217 731,218" stroke="#999" stroke-width="1.26" fill="none"/>
<ellipse cx="712" cy="254" rx="6" ry="7" stroke="#9a9a9a" stroke-width="1.40" fill="#fff"/>
<path d="M709,249 L709,259 M712,248 L712,260" stroke="#777" stroke-width="1.12"/>
<g transform="translate(711.5,266.3) rotate(8)" stroke="#9c9c9c" stroke-width="1.54" fill="none">
<clipPath id="cupclip3"><ellipse cx="0" cy="32.3" rx="45.5" ry="10.3"/></clipPath>
<path d="M-48.5,0 L-48.5,32 A48.5,12 0 0 0 48.5,32 L48.5,0 A48.5,6 0 0 0 -48.5,0 Z" fill="#fff"/>
<path d="M-48.5,0 A48.5,6 0 0 1 -30,-4.5"/>
<ellipse cx="0" cy="32" rx="48.5" ry="12"/>
<ellipse cx="0" cy="32.3" rx="45.5" ry="10.3" stroke="#9a9a9a"/>
<g clip-path="url(#cupclip3)">
<path d="M-50,11.5 A50,11.5 0 0 0 50,11.5" stroke="#7e7e7e" stroke-width="1.40"/>
<path d="M-50,13.9 A50,11.5 0 0 0 50,13.9" stroke="#7e7e7e" stroke-width="1.40"/>
<path d="M-50,16.4 A50,11.5 0 0 0 50,16.4" stroke="#7e7e7e" stroke-width="1.40"/>
<path d="M-50,18.9 A50,11.5 0 0 0 50,18.9" stroke="#7e7e7e" stroke-width="1.40"/>
<path d="M-50,21.3 A50,11.5 0 0 0 50,21.3" stroke="#7e7e7e" stroke-width="1.40"/>
<path d="M-50,23.8 A50,11.5 0 0 0 50,23.8" stroke="#7e7e7e" stroke-width="1.40"/>
<path d="M-50,26.2 A50,11.5 0 0 0 50,26.2" stroke="#7e7e7e" stroke-width="1.40"/>
<path d="M-50,28.7 A50,11.5 0 0 0 50,28.7" stroke="#7e7e7e" stroke-width="1.40"/>
<path d="M-50,31.1 A50,11.5 0 0 0 50,31.1" stroke="#7e7e7e" stroke-width="1.40"/>
</g>
</g>
<path d="M747,270 C754,266 757,262 756,258 M749,293 L751,268 M752,296 C756,290 757,280 756,270" stroke="#999" stroke-width="1.26" fill="none"/>
</g>
<rect x="706.2" y="177.8" width="6.0" height="6.0" rx="1.5" fill="#6a6a6a" stroke="#555" stroke-width="0.98"/>
<rect x="704.4" y="186.8" width="4.6" height="8.0" fill="#fff" stroke="#666" stroke-width="1.12"/>
<line x1="704.4" y1="187.8" x2="709.0" y2="188.8" stroke="#555" stroke-width="1.40"/>
<line x1="704.4" y1="189.8" x2="709.0" y2="190.8" stroke="#555" stroke-width="1.40"/>
<line x1="704.4" y1="191.8" x2="709.0" y2="192.8" stroke="#555" stroke-width="1.40"/>
<line x1="704.4" y1="193.8" x2="709.0" y2="194.8" stroke="#555" stroke-width="1.40"/>
<circle cx="704.2" cy="203.7" r="3" stroke="#9a9a9a" stroke-width="1.26" fill="none"/>
<rect x="746.2" y="185.3" width="6.0" height="6.0" rx="1.5" fill="#6a6a6a" stroke="#555" stroke-width="0.98"/>
<rect x="744.4" y="196.8" width="4.6" height="8.0" fill="#fff" stroke="#666" stroke-width="1.12"/>
<line x1="744.4" y1="197.8" x2="749.0" y2="198.8" stroke="#555" stroke-width="1.40"/>
<line x1="744.4" y1="199.8" x2="749.0" y2="200.8" stroke="#555" stroke-width="1.40"/>
<line x1="744.4" y1="201.8" x2="749.0" y2="202.8" stroke="#555" stroke-width="1.40"/>
<line x1="744.4" y1="203.8" x2="749.0" y2="204.8" stroke="#555" stroke-width="1.40"/>
<circle cx="743.7" cy="213.7" r="3" stroke="#9a9a9a" stroke-width="1.26" fill="none"/>
<g transform="translate(754,215) rotate(8)"><rect x="-3.0" y="0" width="6" height="13.5" rx="1.5" fill="#fff" stroke="#9a9a9a" stroke-width="1.26"/><rect x="-3.0" y="0" width="6" height="6.8" rx="1.5" fill="#666" stroke="#555" stroke-width="1.12"/></g>
<rect x="659.5" y="349.5" width="6.0" height="6.0" rx="1.5" fill="#6a6a6a" stroke="#555" stroke-width="0.98"/>
<rect x="658.5" y="361.0" width="4.6" height="8.0" fill="#fff" stroke="#666" stroke-width="1.12"/>
<line x1="658.5" y1="362.0" x2="663.1" y2="363.0" stroke="#555" stroke-width="1.40"/>
<line x1="658.5" y1="364.0" x2="663.1" y2="365.0" stroke="#555" stroke-width="1.40"/>
<line x1="658.5" y1="366.0" x2="663.1" y2="367.0" stroke="#555" stroke-width="1.40"/>
<line x1="658.5" y1="368.0" x2="663.1" y2="369.0" stroke="#555" stroke-width="1.40"/>
<circle cx="659.2" cy="377.5" r="3" stroke="#9a9a9a" stroke-width="1.26" fill="none"/>
<rect x="700.3" y="361.2" width="6.0" height="6.0" rx="1.5" fill="#6a6a6a" stroke="#555" stroke-width="0.98"/>
<rect x="699.4" y="372.7" width="4.6" height="8.0" fill="#fff" stroke="#666" stroke-width="1.12"/>
<line x1="699.4" y1="373.7" x2="704.0" y2="374.7" stroke="#555" stroke-width="1.40"/>
<line x1="699.4" y1="375.7" x2="704.0" y2="376.7" stroke="#555" stroke-width="1.40"/>
<line x1="699.4" y1="377.7" x2="704.0" y2="378.7" stroke="#555" stroke-width="1.40"/>
<line x1="699.4" y1="379.7" x2="704.0" y2="380.7" stroke="#555" stroke-width="1.40"/>
<circle cx="699.2" cy="389.2" r="3" stroke="#9a9a9a" stroke-width="1.26" fill="none"/>
<g transform="translate(709.5,391.5) rotate(8)"><rect x="-3.0" y="0" width="6" height="13.5" rx="1.5" fill="#fff" stroke="#9a9a9a" stroke-width="1.26"/><rect x="-3.0" y="0" width="6" height="6.8" rx="1.5" fill="#666" stroke="#555" stroke-width="1.12"/></g>
<g transform="translate(636,528.5) rotate(6)"><rect x="-3.75" y="0" width="7.5" height="18" rx="1.5" fill="#fff" stroke="#9a9a9a" stroke-width="1.26"/><rect x="-3.75" y="0" width="7.5" height="9.0" rx="1.5" fill="#666" stroke="#555" stroke-width="1.12"/></g>
<rect x="674.5" y="525.3" width="6.0" height="6.0" rx="1.5" fill="#6a6a6a" stroke="#555" stroke-width="0.98"/>
<rect x="673.5" y="536.8" width="4.6" height="8.0" fill="#fff" stroke="#666" stroke-width="1.12"/>
<line x1="673.5" y1="537.8" x2="678.1" y2="538.8" stroke="#555" stroke-width="1.40"/>
<line x1="673.5" y1="539.8" x2="678.1" y2="540.8" stroke="#555" stroke-width="1.40"/>
<line x1="673.5" y1="541.8" x2="678.1" y2="542.8" stroke="#555" stroke-width="1.40"/>
<line x1="673.5" y1="543.8" x2="678.1" y2="544.8" stroke="#555" stroke-width="1.40"/>
<circle cx="674.2" cy="554.2" r="3" stroke="#9a9a9a" stroke-width="1.26" fill="none"/>
<g transform="translate(683.5,559) rotate(8)"><rect x="-3.0" y="0" width="6" height="13.5" rx="1.5" fill="#fff" stroke="#9a9a9a" stroke-width="1.26"/><rect x="-3.0" y="0" width="6" height="6.8" rx="1.5" fill="#666" stroke="#555" stroke-width="1.12"/></g>
<g transform="translate(701.7,319.2) rotate(8)" stroke="#9c9c9c" stroke-width="1.54" fill="none">
<ellipse cx="0" cy="0" rx="11.7" ry="3.8"/>
<ellipse cx="0" cy="0" rx="9.7" ry="2.70"/>
</g>
<g transform="translate(660.0,497.9) rotate(8)" stroke="#9c9c9c" stroke-width="1.54" fill="none">
<ellipse cx="0" cy="0" rx="11.7" ry="4.6"/>
<ellipse cx="0" cy="0" rx="9.5" ry="3.39"/>
</g>
<g transform="translate(637.1,663.3) rotate(8)" stroke="#9c9c9c" stroke-width="1.54" fill="none">
<ellipse cx="0" cy="0" rx="12.1" ry="4.2"/>
<ellipse cx="0" cy="0" rx="9.899999999999999" ry="2.99"/>
</g>
<ellipse cx="728.3" cy="250.3" rx="2.8" ry="5.2" transform="rotate(0 728.3 250.3)" stroke="#9a9a9a" stroke-width="1.40" fill="#fff"/>
<g transform="translate(733.0,251.5) rotate(-8)" stroke="#444" stroke-width="1.40" fill="none">
<path d="M0.0,-5.5 L4.0,-5.5 L4.0,5.5 L0.0,5.5 Z" fill="#666" stroke="none"/>
<ellipse cx="0" cy="0" rx="1.65" ry="5.5" fill="#666" stroke="none"/>
<path d="M0,-5.5 L4,-5.5 M0,5.5 L4,5.5"/>
<path d="M0,-5.5 A1.65,5.5 0 0 0 0,5.5"/>
<ellipse cx="4" cy="0" rx="1.65" ry="5.5" fill="#666"/>
</g>
<g transform="translate(737.0,250.0) rotate(-8)" stroke="#9c9c9c" stroke-width="1.40" fill="none">
<path d="M0.0,-6.2 L16.0,-6.2 L16.0,6.2 L0.0,6.2 Z" fill="#fff" stroke="none"/>
<ellipse cx="0" cy="0" rx="1.86" ry="6.2" fill="#fff" stroke="none"/>
<path d="M0,-6.2 L16,-6.2 M0,6.2 L16,6.2"/>
<path d="M0,-6.2 A1.86,6.2 0 0 0 0,6.2"/>
<ellipse cx="16" cy="0" rx="1.86" ry="6.2" fill="#fff"/>
</g>
<g transform="translate(754.0,247.0) rotate(-8)" stroke="#444" stroke-width="1.40" fill="none">
<path d="M0.0,-8.2 L9.0,-8.2 L9.0,8.2 L0.0,8.2 Z" fill="#5e5e5e" stroke="none"/>
<ellipse cx="0" cy="0" rx="2.87" ry="8.2" fill="#5e5e5e" stroke="none"/>
<path d="M0,-8.2 L9,-8.2 M0,8.2 L9,8.2"/>
<path d="M0,-8.2 A2.87,8.2 0 0 0 0,8.2"/>
<ellipse cx="9" cy="0" rx="2.87" ry="8.2" fill="#5e5e5e"/>
</g>
<g transform="translate(754,247) rotate(-8)"><ellipse cx="9" cy="0" rx="1.7" ry="4.9" fill="#333" stroke="#444"/></g>
<g transform="translate(775.0,243.0) rotate(-12)" stroke="#9c9c9c" stroke-width="1.40" fill="none">
<path d="M0.0,-3.0 L5.0,-3.0 L5.0,-4.2 L10.0,-4.2 L10.0,-3.5 L15.0,-3.5 L15.0,3.5 L10.0,3.5 L10.0,4.2 L5.0,4.2 L5.0,3.0 L0.0,3.0 Z" fill="#fff" stroke="none"/>
<ellipse cx="0" cy="0" rx="1.20" ry="3" fill="#fff" stroke="none"/>
<path d="M0,-3 L5,-3 M0,3 L5,3"/>
<path d="M0,-3 A1.20,3 0 0 0 0,3"/>
<path d="M5,-4.2 L10,-4.2 M5,4.2 L10,4.2"/>
<path d="M5,-4.2 A1.68,4.2 0 0 1 5,4.2"/>
<path d="M10,-3.5 L15,-3.5 M10,3.5 L15,3.5"/>
<path d="M10,-4.2 A1.68,4.2 0 0 1 10,4.2"/>
<ellipse cx="15" cy="0" rx="1.40" ry="3.5" fill="#fff"/>
<path d="M5.00,-4.2 A1.68,4.2 0 0 1 5.00,4.2" stroke="#555"/>
<path d="M6.20,-4.2 A1.68,4.2 0 0 1 6.20,4.2" stroke="#555"/>
<path d="M7.40,-4.2 A1.68,4.2 0 0 1 7.40,4.2" stroke="#555"/>
<path d="M8.60,-4.2 A1.68,4.2 0 0 1 8.60,4.2" stroke="#555"/>
<path d="M9.80,-4.2 A1.68,4.2 0 0 1 9.80,4.2" stroke="#555"/>
</g>
<g transform="translate(768.5,264.5) rotate(7)" stroke="#9c9c9c" stroke-width="1.40" fill="none">
<path d="M0.0,-11.3 L6.0,-11.3 L6.0,11.3 L0.0,11.3 Z" fill="#fff" stroke="none"/>
<ellipse cx="0" cy="0" rx="3.96" ry="11.3" fill="#fff" stroke="none"/>
<path d="M0,-11.3 L6,-11.3 M0,11.3 L6,11.3"/>
<path d="M0,-11.3 A3.96,11.3 0 0 0 0,11.3"/>
<ellipse cx="6" cy="0" rx="3.96" ry="11.3" fill="#fff"/>
</g>
<g transform="translate(785.0,266.0) rotate(7)" stroke="#9c9c9c" stroke-width="1.40" fill="none">
<path d="M0.0,-12.0 L5.0,-12.0 L5.0,-13.0 L18.0,-13.0 L18.0,13.0 L5.0,13.0 L5.0,12.0 L0.0,12.0 Z" fill="#fff" stroke="none"/>
<ellipse cx="0" cy="0" rx="3.60" ry="12" fill="#fff" stroke="none"/>
<path d="M0,-12 L5,-12 M0,12 L5,12"/>
<path d="M0,-12 A3.60,12 0 0 0 0,12"/>
<path d="M5,-13 L18,-13 M5,13 L18,13"/>
<path d="M5,-13 A3.90,13 0 0 1 5,13"/>
<ellipse cx="18" cy="0" rx="3.90" ry="13" fill="#fff"/>
</g>
<g transform="translate(803.5,266.5) rotate(7)" stroke="#9c9c9c" stroke-width="1.40" fill="none">
<path d="M0.0,-4.0 L8.0,-4.0 L8.0,-5.2 L68.0,-5.2 L68.0,5.2 L8.0,5.2 L8.0,4.0 L0.0,4.0 Z" fill="#fff" stroke="none"/>
<ellipse cx="0" cy="0" rx="1.40" ry="4" fill="#fff" stroke="none"/>
<path d="M0,-4 L8,-4 M0,4 L8,4"/>
<path d="M0,-4 A1.40,4 0 0 0 0,4"/>
<path d="M8,-5.2 L68,-5.2 M8,5.2 L68,5.2"/>
<path d="M8,-5.2 A1.82,5.2 0 0 1 8,5.2"/>
<ellipse cx="68" cy="0" rx="1.82" ry="5.2" fill="#fff"/>
</g>
<circle cx="837.5" cy="270.8" r="1.6" stroke="#9a9a9a" stroke-width="1.12" fill="none"/>
<g transform="translate(880.5,277.5) rotate(5)" stroke="#9c9c9c" stroke-width="1.40" fill="none">
<path d="M0.0,-12.5 L7.0,-12.5 L7.0,12.5 L0.0,12.5 Z" fill="#fff" stroke="none"/>
<ellipse cx="0" cy="0" rx="4.38" ry="12.5" fill="#fff" stroke="none"/>
<path d="M0,-12.5 L7,-12.5 M0,12.5 L7,12.5"/>
<path d="M0,-12.5 A4.38,12.5 0 0 0 0,12.5"/>
<ellipse cx="7" cy="0" rx="4.38" ry="12.5" fill="#fff"/>
</g>
<g transform="translate(898.0,279.2) rotate(5)" stroke="#9c9c9c" stroke-width="1.40" fill="none">
<path d="M0.0,-12.0 L3.0,-12.0 L3.0,12.0 L0.0,12.0 Z" fill="#fff" stroke="none"/>
<ellipse cx="0" cy="0" rx="4.20" ry="12" fill="#fff" stroke="none"/>
<path d="M0,-12 L3,-12 M0,12 L3,12"/>
<path d="M0,-12 A4.20,12 0 0 0 0,12"/>
<ellipse cx="3" cy="0" rx="4.20" ry="12" fill="#fff"/>
</g>
<g transform="translate(912.0,282.0) rotate(5)" stroke="#9c9c9c" stroke-width="1.40" fill="none">
<path d="M0.0,-12.3 L2.5,-12.3 L2.5,-12.0 L30.0,-12.0 L30.0,-13.5 L35.0,-13.5 L35.0,13.5 L30.0,13.5 L30.0,12.0 L2.5,12.0 L2.5,12.3 L0.0,12.3 Z" fill="#fff" stroke="none"/>
<ellipse cx="0" cy="0" rx="3.69" ry="12.3" fill="#fff" stroke="none"/>
<path d="M0,-12.3 L2.5,-12.3 M0,12.3 L2.5,12.3"/>
<path d="M0,-12.3 A3.69,12.3 0 0 0 0,12.3"/>
<path d="M2.5,-12 L30,-12 M2.5,12 L30,12"/>
<path d="M2.5,-12.3 A3.69,12.3 0 0 1 2.5,12.3"/>
<path d="M30,-13.5 L35,-13.5 M30,13.5 L35,13.5"/>
<path d="M30,-13.5 A4.05,13.5 0 0 1 30,13.5"/>
<ellipse cx="35" cy="0" rx="4.05" ry="13.5" fill="#fff"/>
<path d="M6.00,-12 A3.60,12 0 0 1 6.00,12" stroke="#999"/>
<path d="M27.00,-12 A3.60,12 0 0 1 27.00,12" stroke="#999"/>
<path d="M29.00,-12 A3.60,12 0 0 1 29.00,12" stroke="#999"/>
</g>
<g transform="translate(912.0,282.0) rotate(5)" stroke="#666" stroke-width="1.26" fill="none">
<ellipse cx="13" cy="-7.2" rx="1.4" ry="2.1"/>
<ellipse cx="13" cy="0.0" rx="1.4" ry="2.1"/>
<ellipse cx="13" cy="7.2" rx="1.4" ry="2.1"/>
<rect x="19" y="-7.8" width="2.4" height="15.6" rx="1.2"/>
</g>
<g transform="translate(949.0,287.0) rotate(5)" stroke="#9c9c9c" stroke-width="1.40" fill="none">
<path d="M0,-20.5 L7,-20.5 A6.15,20.5 0 0 1 7,20.5 L0,20.5 A6.15,20.5 0 0 1 0,-20.5 Z" fill="#fff"/>
<line x1="-2.26" y1="-19.07" x2="4.74" y2="-19.07" stroke="#555" stroke-width="1.26"/>
<line x1="-3.20" y1="-17.52" x2="3.80" y2="-17.52" stroke="#555" stroke-width="1.26"/>
<line x1="-3.86" y1="-15.96" x2="3.14" y2="-15.96" stroke="#555" stroke-width="1.26"/>
<line x1="-4.37" y1="-14.41" x2="2.63" y2="-14.41" stroke="#555" stroke-width="1.26"/>
<line x1="-4.79" y1="-12.86" x2="2.21" y2="-12.86" stroke="#555" stroke-width="1.26"/>
<line x1="-5.13" y1="-11.31" x2="1.87" y2="-11.31" stroke="#555" stroke-width="1.26"/>
<line x1="-5.41" y1="-9.76" x2="1.59" y2="-9.76" stroke="#555" stroke-width="1.26"/>
<line x1="-5.63" y1="-8.21" x2="1.37" y2="-8.21" stroke="#555" stroke-width="1.26"/>
<line x1="-5.82" y1="-6.66" x2="1.18" y2="-6.66" stroke="#555" stroke-width="1.26"/>
<line x1="-5.96" y1="-5.11" x2="1.04" y2="-5.11" stroke="#555" stroke-width="1.26"/>
<line x1="-6.06" y1="-3.56" x2="0.94" y2="-3.56" stroke="#555" stroke-width="1.26"/>
<line x1="-6.12" y1="-2.01" x2="0.88" y2="-2.01" stroke="#555" stroke-width="1.26"/>
<line x1="-6.15" y1="-0.46" x2="0.85" y2="-0.46" stroke="#555" stroke-width="1.26"/>
<line x1="-6.14" y1="1.09" x2="0.86" y2="1.09" stroke="#555" stroke-width="1.26"/>
<line x1="-6.10" y1="2.64" x2="0.90" y2="2.64" stroke="#555" stroke-width="1.26"/>
<line x1="-6.02" y1="4.19" x2="0.98" y2="4.19" stroke="#555" stroke-width="1.26"/>
<line x1="-5.90" y1="5.74" x2="1.10" y2="5.74" stroke="#555" stroke-width="1.26"/>
<line x1="-5.75" y1="7.29" x2="1.25" y2="7.29" stroke="#555" stroke-width="1.26"/>
<line x1="-5.55" y1="8.84" x2="1.45" y2="8.84" stroke="#555" stroke-width="1.26"/>
<line x1="-5.30" y1="10.39" x2="1.70" y2="10.39" stroke="#555" stroke-width="1.26"/>
<line x1="-5.00" y1="11.94" x2="2.00" y2="11.94" stroke="#555" stroke-width="1.26"/>
<line x1="-4.63" y1="13.49" x2="2.37" y2="13.49" stroke="#555" stroke-width="1.26"/>
<line x1="-4.18" y1="15.04" x2="2.82" y2="15.04" stroke="#555" stroke-width="1.26"/>
<line x1="-3.61" y1="16.59" x2="3.39" y2="16.59" stroke="#555" stroke-width="1.26"/>
<line x1="-2.87" y1="18.14" x2="4.13" y2="18.14" stroke="#555" stroke-width="1.26"/>
<ellipse cx="7" cy="0" rx="6.15" ry="20.5" fill="#fff" stroke="#777" stroke-width="1.54"/>
<ellipse cx="7.6" cy="0" rx="4.80" ry="16.40" fill="none" stroke="#999"/>
<path d="M2.1,19.5 L3.5,23.5 L8.0,23.0 L8.5,19.5" fill="#fff" stroke="#9a9a9a"/>
</g>
<g transform="translate(974.2,290.5) rotate(5)" stroke="#9c9c9c" stroke-width="1.40" fill="none">
<path d="M0.0,-9.5 L16.0,-9.5 L16.0,9.5 L0.0,9.5 Z" fill="#fff" stroke="none"/>
<ellipse cx="0" cy="0" rx="3.32" ry="9.5" fill="#fff" stroke="none"/>
<path d="M0,-9.5 L16,-9.5 M0,9.5 L16,9.5"/>
<path d="M0,-9.5 A3.32,9.5 0 0 0 0,9.5"/>
<ellipse cx="16" cy="0" rx="3.32" ry="9.5" fill="#fff"/>
</g>
<g transform="translate(1000.0,293.0) rotate(5)" stroke="#9c9c9c" stroke-width="1.40" fill="none">
<path d="M0.0,-12.2 L3.0,-12.2 L3.0,12.2 L0.0,12.2 Z" fill="#fff" stroke="none"/>
<ellipse cx="0" cy="0" rx="4.27" ry="12.2" fill="#fff" stroke="none"/>
<path d="M0,-12.2 L3,-12.2 M0,12.2 L3,12.2"/>
<path d="M0,-12.2 A4.27,12.2 0 0 0 0,12.2"/>
<ellipse cx="3" cy="0" rx="4.27" ry="12.2" fill="#fff"/>
</g>
<g transform="translate(1037,256) rotate(8)"><rect x="-3.4" y="0" width="6.8" height="15" rx="1.5" fill="#fff" stroke="#9a9a9a" stroke-width="1.26"/><rect x="-3.4" y="0" width="6.8" height="7.5" rx="1.5" fill="#666" stroke="#555" stroke-width="1.12"/></g>
<path d="M1019,296 C1018,288 1024,284 1031,284 C1038,284 1041,290 1040,298 C1039,305 1034,309 1028,308 L1029,343 C1028,347 1018,347 1016,344 L1017,320 Z" fill="#fff" stroke="#9a9a9a" stroke-width="1.40"/>
<path d="M1021,290 C1018,293 1017,300 1020,305 M1023,286 L1021,306 M1028,308 L1020,340 M1022,308 L1028,308" stroke="#9a9a9a" stroke-width="1.26" fill="none"/>
<ellipse cx="1020" cy="297" rx="3.5" ry="11" stroke="#666" stroke-width="1.68" fill="none"/>
<ellipse cx="686.3" cy="429.0" rx="2.8" ry="5.2" transform="rotate(0 686.3 429.0)" stroke="#9a9a9a" stroke-width="1.40" fill="#fff"/>
<g transform="translate(691.0,430.0) rotate(-8)" stroke="#444" stroke-width="1.40" fill="none">
<path d="M0.0,-5.5 L4.0,-5.5 L4.0,5.5 L0.0,5.5 Z" fill="#666" stroke="none"/>
<ellipse cx="0" cy="0" rx="1.65" ry="5.5" fill="#666" stroke="none"/>
<path d="M0,-5.5 L4,-5.5 M0,5.5 L4,5.5"/>
<path d="M0,-5.5 A1.65,5.5 0 0 0 0,5.5"/>
<ellipse cx="4" cy="0" rx="1.65" ry="5.5" fill="#666"/>
</g>
<g transform="translate(695.0,428.0) rotate(-8)" stroke="#9c9c9c" stroke-width="1.40" fill="none">
<path d="M0.0,-6.8 L32.0,-6.8 L32.0,6.8 L0.0,6.8 Z" fill="#fff" stroke="none"/>
<ellipse cx="0" cy="0" rx="2.04" ry="6.8" fill="#fff" stroke="none"/>
<path d="M0,-6.8 L32,-6.8 M0,6.8 L32,6.8"/>
<path d="M0,-6.8 A2.04,6.8 0 0 0 0,6.8"/>
<ellipse cx="32" cy="0" rx="2.04" ry="6.8" fill="#fff"/>
</g>
<g transform="translate(729.0,423.5) rotate(-8)" stroke="#444" stroke-width="1.40" fill="none">
<path d="M0.0,-8.5 L11.0,-8.5 L11.0,8.5 L0.0,8.5 Z" fill="#5e5e5e" stroke="none"/>
<ellipse cx="0" cy="0" rx="2.97" ry="8.5" fill="#5e5e5e" stroke="none"/>
<path d="M0,-8.5 L11,-8.5 M0,8.5 L11,8.5"/>
<path d="M0,-8.5 A2.97,8.5 0 0 0 0,8.5"/>
<ellipse cx="11" cy="0" rx="2.97" ry="8.5" fill="#5e5e5e"/>
</g>
<g transform="translate(729,423.5) rotate(-8)"><ellipse cx="11" cy="0" rx="1.8" ry="5.1" fill="#333" stroke="#444"/></g>
<g transform="translate(751.0,418.0) rotate(-6)" stroke="#9c9c9c" stroke-width="1.40" fill="none">
<path d="M0.0,-3.0 L6.0,-3.0 L6.0,-4.5 L18.0,-4.5 L18.0,-4.0 L24.0,-4.0 L24.0,4.0 L18.0,4.0 L18.0,4.5 L6.0,4.5 L6.0,3.0 L0.0,3.0 Z" fill="#fff" stroke="none"/>
<ellipse cx="0" cy="0" rx="1.20" ry="3" fill="#fff" stroke="none"/>
<path d="M0,-3 L6,-3 M0,3 L6,3"/>
<path d="M0,-3 A1.20,3 0 0 0 0,3"/>
<path d="M6,-4.5 L18,-4.5 M6,4.5 L18,4.5"/>
<path d="M6,-4.5 A1.80,4.5 0 0 1 6,4.5"/>
<path d="M18,-4 L24,-4 M18,4 L24,4"/>
<path d="M18,-4.5 A1.80,4.5 0 0 1 18,4.5"/>
<ellipse cx="24" cy="0" rx="1.60" ry="4" fill="#fff"/>
<path d="M6.00,-4.5 A1.80,4.5 0 0 1 6.00,4.5" stroke="#555"/>
<path d="M7.20,-4.5 A1.80,4.5 0 0 1 7.20,4.5" stroke="#555"/>
<path d="M8.40,-4.5 A1.80,4.5 0 0 1 8.40,4.5" stroke="#555"/>
<path d="M9.60,-4.5 A1.80,4.5 0 0 1 9.60,4.5" stroke="#555"/>
<path d="M10.80,-4.5 A1.80,4.5 0 0 1 10.80,4.5" stroke="#555"/>
<path d="M12.00,-4.5 A1.80,4.5 0 0 1 12.00,4.5" stroke="#555"/>
<path d="M13.20,-4.5 A1.80,4.5 0 0 1 13.20,4.5" stroke="#555"/>
<path d="M14.40,-4.5 A1.80,4.5 0 0 1 14.40,4.5" stroke="#555"/>
<path d="M15.60,-4.5 A1.80,4.5 0 0 1 15.60,4.5" stroke="#555"/>
<path d="M16.80,-4.5 A1.80,4.5 0 0 1 16.80,4.5" stroke="#555"/>
<path d="M18.00,-4.5 A1.80,4.5 0 0 1 18.00,4.5" stroke="#555"/>
</g>
<g transform="translate(727.5,442.0) rotate(7)" stroke="#9c9c9c" stroke-width="1.40" fill="none">
<path d="M0.0,-11.2 L6.0,-11.2 L6.0,11.2 L0.0,11.2 Z" fill="#fff" stroke="none"/>
<ellipse cx="0" cy="0" rx="3.36" ry="11.2" fill="#fff" stroke="none"/>
<path d="M0,-11.2 L6,-11.2 M0,11.2 L6,11.2"/>
<path d="M0,-11.2 A3.36,11.2 0 0 0 0,11.2"/>
<ellipse cx="6" cy="0" rx="3.36" ry="11.2" fill="#fff"/>
</g>
<g transform="translate(745.0,442.5) rotate(6)" stroke="#9c9c9c" stroke-width="1.40" fill="none">
<path d="M0.0,-12.5 L12.0,-12.5 L12.0,12.5 L0.0,12.5 Z" fill="#fff" stroke="none"/>
<ellipse cx="0" cy="0" rx="3.75" ry="12.5" fill="#fff" stroke="none"/>
<path d="M0,-12.5 L12,-12.5 M0,12.5 L12,12.5"/>
<path d="M0,-12.5 A3.75,12.5 0 0 0 0,12.5"/>
<ellipse cx="12" cy="0" rx="3.75" ry="12.5" fill="#fff"/>
<path d="M0.00,-12.5 A3.75,12.5 0 0 1 0.00,12.5" stroke="#9a9a9a"/>
<path d="M2.00,-12.5 A3.75,12.5 0 0 1 2.00,12.5" stroke="#9a9a9a"/>
<path d="M4.00,-12.5 A3.75,12.5 0 0 1 4.00,12.5" stroke="#9a9a9a"/>
<path d="M6.00,-12.5 A3.75,12.5 0 0 1 6.00,12.5" stroke="#9a9a9a"/>
<path d="M8.00,-12.5 A3.75,12.5 0 0 1 8.00,12.5" stroke="#9a9a9a"/>
<path d="M10.00,-12.5 A3.75,12.5 0 0 1 10.00,12.5" stroke="#9a9a9a"/>
<path d="M12.00,-12.5 A3.75,12.5 0 0 1 12.00,12.5" stroke="#9a9a9a"/>
</g>
<g transform="translate(760.0,444.0) rotate(6)" stroke="#9c9c9c" stroke-width="1.40" fill="none">
<path d="M0.0,-5.0 L8.0,-5.0 L8.0,-6.5 L36.0,-6.5 L36.0,-6.8 L38.0,-6.8 L38.0,-6.5 L74.0,-6.5 L74.0,6.5 L38.0,6.5 L38.0,6.8 L36.0,6.8 L36.0,6.5 L8.0,6.5 L8.0,5.0 L0.0,5.0 Z" fill="#fff" stroke="none"/>
<ellipse cx="0" cy="0" rx="1.50" ry="5" fill="#fff" stroke="none"/>
<path d="M0,-5 L8,-5 M0,5 L8,5"/>
<path d="M0,-5 A1.50,5 0 0 0 0,5"/>
<path d="M8,-6.5 L36,-6.5 M8,6.5 L36,6.5"/>
<path d="M8,-6.5 A1.95,6.5 0 0 1 8,6.5"/>
<path d="M36,-6.8 L38,-6.8 M36,6.8 L38,6.8"/>
<path d="M36,-6.8 A2.04,6.8 0 0 1 36,6.8"/>
<path d="M38,-6.5 L74,-6.5 M38,6.5 L74,6.5"/>
<path d="M38,-6.8 A2.04,6.8 0 0 1 38,6.8"/>
<ellipse cx="74" cy="0" rx="1.95" ry="6.5" fill="#fff"/>
</g>
<g transform="translate(843.0,454.0) rotate(6)" stroke="#9c9c9c" stroke-width="1.40" fill="none">
<path d="M0.0,-12.5 L7.0,-12.5 L7.0,12.5 L0.0,12.5 Z" fill="#fff" stroke="none"/>
<ellipse cx="0" cy="0" rx="4.38" ry="12.5" fill="#fff" stroke="none"/>
<path d="M0,-12.5 L7,-12.5 M0,12.5 L7,12.5"/>
<path d="M0,-12.5 A4.38,12.5 0 0 0 0,12.5"/>
<ellipse cx="7" cy="0" rx="4.38" ry="12.5" fill="#fff"/>
</g>
<g transform="translate(860.5,456.0) rotate(6)" stroke="#9c9c9c" stroke-width="1.40" fill="none">
<path d="M0.0,-11.7 L2.5,-11.7 L2.5,11.7 L0.0,11.7 Z" fill="#fff" stroke="none"/>
<ellipse cx="0" cy="0" rx="3.51" ry="11.7" fill="#fff" stroke="none"/>
<path d="M0,-11.7 L2.5,-11.7 M0,11.7 L2.5,11.7"/>
<path d="M0,-11.7 A3.51,11.7 0 0 0 0,11.7"/>
<ellipse cx="2.5" cy="0" rx="3.51" ry="11.7" fill="#fff"/>
</g>
<g transform="translate(873.5,458.5) rotate(6)" stroke="#9c9c9c" stroke-width="1.40" fill="none">
<path d="M0.0,-12.8 L2.5,-12.8 L2.5,-12.5 L36.0,-12.5 L36.0,-13.5 L40.0,-13.5 L40.0,13.5 L36.0,13.5 L36.0,12.5 L2.5,12.5 L2.5,12.8 L0.0,12.8 Z" fill="#fff" stroke="none"/>
<ellipse cx="0" cy="0" rx="3.84" ry="12.8" fill="#fff" stroke="none"/>
<path d="M0,-12.8 L2.5,-12.8 M0,12.8 L2.5,12.8"/>
<path d="M0,-12.8 A3.84,12.8 0 0 0 0,12.8"/>
<path d="M2.5,-12.5 L36,-12.5 M2.5,12.5 L36,12.5"/>
<path d="M2.5,-12.8 A3.84,12.8 0 0 1 2.5,12.8"/>
<path d="M36,-13.5 L40,-13.5 M36,13.5 L40,13.5"/>
<path d="M36,-13.5 A4.05,13.5 0 0 1 36,13.5"/>
<ellipse cx="40" cy="0" rx="4.05" ry="13.5" fill="#fff"/>
<path d="M6.00,-12.5 A3.75,12.5 0 0 1 6.00,12.5" stroke="#999"/>
<path d="M31.00,-12.5 A3.75,12.5 0 0 1 31.00,12.5" stroke="#999"/>
<path d="M34.00,-12.5 A3.75,12.5 0 0 1 34.00,12.5" stroke="#999"/>
</g>
<g transform="translate(873.5,458.5) rotate(6)" stroke="#666" stroke-width="1.26" fill="none">
<ellipse cx="15" cy="-7.5" rx="1.4" ry="2.1"/>
<ellipse cx="15" cy="0.0" rx="1.4" ry="2.1"/>
<ellipse cx="15" cy="7.5" rx="1.4" ry="2.1"/>
<rect x="21" y="-8.1" width="2.4" height="16.2" rx="1.2"/>
</g>
<g transform="translate(913.5,464.0) rotate(6)" stroke="#9c9c9c" stroke-width="1.40" fill="none">
<path d="M0,-20.8 L8,-20.8 A6.24,20.8 0 0 1 8,20.8 L0,20.8 A6.24,20.8 0 0 1 0,-20.8 Z" fill="#fff"/>
<line x1="-2.29" y1="-19.34" x2="5.71" y2="-19.34" stroke="#555" stroke-width="1.26"/>
<line x1="-3.23" y1="-17.79" x2="4.77" y2="-17.79" stroke="#555" stroke-width="1.26"/>
<line x1="-3.90" y1="-16.24" x2="4.10" y2="-16.24" stroke="#555" stroke-width="1.26"/>
<line x1="-4.42" y1="-14.69" x2="3.58" y2="-14.69" stroke="#555" stroke-width="1.26"/>
<line x1="-4.84" y1="-13.14" x2="3.16" y2="-13.14" stroke="#555" stroke-width="1.26"/>
<line x1="-5.18" y1="-11.59" x2="2.82" y2="-11.59" stroke="#555" stroke-width="1.26"/>
<line x1="-5.46" y1="-10.04" x2="2.54" y2="-10.04" stroke="#555" stroke-width="1.26"/>
<line x1="-5.70" y1="-8.49" x2="2.30" y2="-8.49" stroke="#555" stroke-width="1.26"/>
<line x1="-5.88" y1="-6.94" x2="2.12" y2="-6.94" stroke="#555" stroke-width="1.26"/>
<line x1="-6.03" y1="-5.39" x2="1.97" y2="-5.39" stroke="#555" stroke-width="1.26"/>
<line x1="-6.13" y1="-3.84" x2="1.87" y2="-3.84" stroke="#555" stroke-width="1.26"/>
<line x1="-6.20" y1="-2.29" x2="1.80" y2="-2.29" stroke="#555" stroke-width="1.26"/>
<line x1="-6.24" y1="-0.74" x2="1.76" y2="-0.74" stroke="#555" stroke-width="1.26"/>
<line x1="-6.24" y1="0.81" x2="1.76" y2="0.81" stroke="#555" stroke-width="1.26"/>
<line x1="-6.20" y1="2.36" x2="1.80" y2="2.36" stroke="#555" stroke-width="1.26"/>
<line x1="-6.13" y1="3.91" x2="1.87" y2="3.91" stroke="#555" stroke-width="1.26"/>
<line x1="-6.02" y1="5.46" x2="1.98" y2="5.46" stroke="#555" stroke-width="1.26"/>
<line x1="-5.88" y1="7.01" x2="2.12" y2="7.01" stroke="#555" stroke-width="1.26"/>
<line x1="-5.69" y1="8.56" x2="2.31" y2="8.56" stroke="#555" stroke-width="1.26"/>
<line x1="-5.45" y1="10.11" x2="2.55" y2="10.11" stroke="#555" stroke-width="1.26"/>
<line x1="-5.17" y1="11.66" x2="2.83" y2="11.66" stroke="#555" stroke-width="1.26"/>
<line x1="-4.82" y1="13.21" x2="3.18" y2="13.21" stroke="#555" stroke-width="1.26"/>
<line x1="-4.40" y1="14.76" x2="3.60" y2="14.76" stroke="#555" stroke-width="1.26"/>
<line x1="-3.87" y1="16.31" x2="4.13" y2="16.31" stroke="#555" stroke-width="1.26"/>
<line x1="-3.20" y1="17.86" x2="4.80" y2="17.86" stroke="#555" stroke-width="1.26"/>
<ellipse cx="8" cy="0" rx="6.24" ry="20.8" fill="#fff" stroke="#777" stroke-width="1.54"/>
<ellipse cx="8.6" cy="0" rx="4.87" ry="16.64" fill="none" stroke="#999"/>
<path d="M2.4,19.8 L4.0,23.8 L9.0,23.3 L9.5,19.8" fill="#fff" stroke="#9a9a9a"/>
</g>
<g transform="translate(937.0,466.8) rotate(6)" stroke="#9c9c9c" stroke-width="1.40" fill="none">
<path d="M0.0,-8.8 L15.5,-8.8 L15.5,8.8 L0.0,8.8 Z" fill="#fff" stroke="none"/>
<ellipse cx="0" cy="0" rx="3.08" ry="8.8" fill="#fff" stroke="none"/>
<path d="M0,-8.8 L15.5,-8.8 M0,8.8 L15.5,8.8"/>
<path d="M0,-8.8 A3.08,8.8 0 0 0 0,8.8"/>
<ellipse cx="15.5" cy="0" rx="3.08" ry="8.8" fill="#fff"/>
</g>
<g transform="translate(960.5,469.0) rotate(6)" stroke="#9c9c9c" stroke-width="1.40" fill="none">
<path d="M0.0,-12.3 L2.5,-12.3 L2.5,12.3 L0.0,12.3 Z" fill="#fff" stroke="none"/>
<ellipse cx="0" cy="0" rx="3.69" ry="12.3" fill="#fff" stroke="none"/>
<path d="M0,-12.3 L2.5,-12.3 M0,12.3 L2.5,12.3"/>
<path d="M0,-12.3 A3.69,12.3 0 0 0 0,12.3"/>
<ellipse cx="2.5" cy="0" rx="3.69" ry="12.3" fill="#fff"/>
</g>
<g transform="translate(971.5,470.7) rotate(6)" stroke="#9c9c9c" stroke-width="1.40" fill="none">
<path d="M0.0,-12.5 L3.0,-12.5 L3.0,12.5 L0.0,12.5 Z" fill="#fff" stroke="none"/>
<ellipse cx="0" cy="0" rx="3.75" ry="12.5" fill="#fff" stroke="none"/>
<path d="M0,-12.5 L3,-12.5 M0,12.5 L3,12.5"/>
<path d="M0,-12.5 A3.75,12.5 0 0 0 0,12.5"/>
<ellipse cx="3" cy="0" rx="3.75" ry="12.5" fill="#fff"/>
</g>
<g transform="translate(979.5,472.5) rotate(6)" stroke="#9c9c9c" stroke-width="1.40" fill="none">
<path d="M0,-14.5 L11,-14.5 A4.35,14.5 0 0 1 11,14.5 L0,14.5 A4.35,14.5 0 0 1 0,-14.5 Z" fill="#fff"/>
<line x1="-1.60" y1="-13.49" x2="9.40" y2="-13.49" stroke="#555" stroke-width="1.26"/>
<line x1="-2.47" y1="-11.94" x2="8.53" y2="-11.94" stroke="#555" stroke-width="1.26"/>
<line x1="-3.04" y1="-10.38" x2="7.96" y2="-10.38" stroke="#555" stroke-width="1.26"/>
<line x1="-3.45" y1="-8.83" x2="7.55" y2="-8.83" stroke="#555" stroke-width="1.26"/>
<line x1="-3.76" y1="-7.28" x2="7.24" y2="-7.28" stroke="#555" stroke-width="1.26"/>
<line x1="-4.00" y1="-5.73" x2="7.00" y2="-5.73" stroke="#555" stroke-width="1.26"/>
<line x1="-4.16" y1="-4.18" x2="6.84" y2="-4.18" stroke="#555" stroke-width="1.26"/>
<line x1="-4.28" y1="-2.63" x2="6.72" y2="-2.63" stroke="#555" stroke-width="1.26"/>
<line x1="-4.34" y1="-1.08" x2="6.66" y2="-1.08" stroke="#555" stroke-width="1.26"/>
<line x1="-4.35" y1="0.47" x2="6.65" y2="0.47" stroke="#555" stroke-width="1.26"/>
<line x1="-4.31" y1="2.02" x2="6.69" y2="2.02" stroke="#555" stroke-width="1.26"/>
<line x1="-4.22" y1="3.57" x2="6.78" y2="3.57" stroke="#555" stroke-width="1.26"/>
<line x1="-4.07" y1="5.12" x2="6.93" y2="5.12" stroke="#555" stroke-width="1.26"/>
<line x1="-3.86" y1="6.67" x2="7.14" y2="6.67" stroke="#555" stroke-width="1.26"/>
<line x1="-3.58" y1="8.21" x2="7.42" y2="8.21" stroke="#555" stroke-width="1.26"/>
<line x1="-3.22" y1="9.77" x2="7.78" y2="9.77" stroke="#555" stroke-width="1.26"/>
<line x1="-2.72" y1="11.32" x2="8.28" y2="11.32" stroke="#555" stroke-width="1.26"/>
<line x1="-2.01" y1="12.87" x2="8.99" y2="12.87" stroke="#555" stroke-width="1.26"/>
<ellipse cx="11" cy="0" rx="4.35" ry="14.5" fill="#fff" stroke="#777" stroke-width="1.54"/>
<ellipse cx="11.6" cy="0" rx="3.39" ry="11.60" fill="none" stroke="#999"/>
</g>
<g transform="translate(989.3,429) rotate(8)"><rect x="-3.4" y="0" width="6.8" height="14.5" rx="1.5" fill="#fff" stroke="#9a9a9a" stroke-width="1.26"/><rect x="-3.4" y="0" width="6.8" height="7.2" rx="1.5" fill="#666" stroke="#555" stroke-width="1.12"/></g>
<ellipse cx="663.3" cy="592.0" rx="2.8" ry="5.2" transform="rotate(0 663.3 592.0)" stroke="#9a9a9a" stroke-width="1.40" fill="#fff"/>
<g transform="translate(668.0,593.0) rotate(-10)" stroke="#444" stroke-width="1.40" fill="none">
<path d="M0.0,-5.5 L4.0,-5.5 L4.0,5.5 L0.0,5.5 Z" fill="#666" stroke="none"/>
<ellipse cx="0" cy="0" rx="1.65" ry="5.5" fill="#666" stroke="none"/>
<path d="M0,-5.5 L4,-5.5 M0,5.5 L4,5.5"/>
<path d="M0,-5.5 A1.65,5.5 0 0 0 0,5.5"/>
<ellipse cx="4" cy="0" rx="1.65" ry="5.5" fill="#666"/>
</g>
<g transform="translate(672.0,591.0) rotate(-10)" stroke="#9c9c9c" stroke-width="1.40" fill="none">
<path d="M0.0,-6.8 L26.0,-6.8 L26.0,6.8 L0.0,6.8 Z" fill="#fff" stroke="none"/>
<ellipse cx="0" cy="0" rx="2.04" ry="6.8" fill="#fff" stroke="none"/>
<path d="M0,-6.8 L26,-6.8 M0,6.8 L26,6.8"/>
<path d="M0,-6.8 A2.04,6.8 0 0 0 0,6.8"/>
<ellipse cx="26" cy="0" rx="2.04" ry="6.8" fill="#fff"/>
</g>
<g transform="translate(699.0,585.0) rotate(-10)" stroke="#444" stroke-width="1.40" fill="none">
<path d="M0.0,-8.5 L10.0,-8.5 L10.0,8.5 L0.0,8.5 Z" fill="#5e5e5e" stroke="none"/>
<ellipse cx="0" cy="0" rx="2.97" ry="8.5" fill="#5e5e5e" stroke="none"/>
<path d="M0,-8.5 L10,-8.5 M0,8.5 L10,8.5"/>
<path d="M0,-8.5 A2.97,8.5 0 0 0 0,8.5"/>
<ellipse cx="10" cy="0" rx="2.97" ry="8.5" fill="#5e5e5e"/>
</g>
<g transform="translate(699,585) rotate(-10)"><ellipse cx="10" cy="0" rx="1.8" ry="5.1" fill="#333" stroke="#444"/></g>
<g transform="translate(717.0,578.0) rotate(-8)" stroke="#9c9c9c" stroke-width="1.40" fill="none">
<path d="M0.0,-3.0 L5.0,-3.0 L5.0,-4.5 L15.0,-4.5 L15.0,-4.0 L20.0,-4.0 L20.0,4.0 L15.0,4.0 L15.0,4.5 L5.0,4.5 L5.0,3.0 L0.0,3.0 Z" fill="#fff" stroke="none"/>
<ellipse cx="0" cy="0" rx="1.20" ry="3" fill="#fff" stroke="none"/>
<path d="M0,-3 L5,-3 M0,3 L5,3"/>
<path d="M0,-3 A1.20,3 0 0 0 0,3"/>
<path d="M5,-4.5 L15,-4.5 M5,4.5 L15,4.5"/>
<path d="M5,-4.5 A1.80,4.5 0 0 1 5,4.5"/>
<path d="M15,-4 L20,-4 M15,4 L20,4"/>
<path d="M15,-4.5 A1.80,4.5 0 0 1 15,4.5"/>
<ellipse cx="20" cy="0" rx="1.60" ry="4" fill="#fff"/>
<path d="M5.00,-4.5 A1.80,4.5 0 0 1 5.00,4.5" stroke="#555"/>
<path d="M6.20,-4.5 A1.80,4.5 0 0 1 6.20,4.5" stroke="#555"/>
<path d="M7.40,-4.5 A1.80,4.5 0 0 1 7.40,4.5" stroke="#555"/>
<path d="M8.60,-4.5 A1.80,4.5 0 0 1 8.60,4.5" stroke="#555"/>
<path d="M9.80,-4.5 A1.80,4.5 0 0 1 9.80,4.5" stroke="#555"/>
<path d="M11.00,-4.5 A1.80,4.5 0 0 1 11.00,4.5" stroke="#555"/>
<path d="M12.20,-4.5 A1.80,4.5 0 0 1 12.20,4.5" stroke="#555"/>
<path d="M13.40,-4.5 A1.80,4.5 0 0 1 13.40,4.5" stroke="#555"/>
<path d="M14.60,-4.5 A1.80,4.5 0 0 1 14.60,4.5" stroke="#555"/>
</g>
<path d="M704,593 C702,597 702,610 705,614 L727,617 C731,617 734,611 734,603 C734,595 731,591 727,591 L708,590 C705,590 704,591 704,593 Z" fill="#fff" stroke="#9a9a9a" stroke-width="1.40"/>
<path d="M727,591 C723,592 722,603 724,609 L720,610 L717,605 L718,598 M722,612 L725,617" stroke="#9a9a9a" stroke-width="1.26" fill="none"/>
<g transform="translate(747.5,605.5) rotate(6)" stroke="#9c9c9c" stroke-width="1.40" fill="none">
<path d="M0.0,-12.8 L8.0,-12.8 L8.0,12.8 L0.0,12.8 Z" fill="#fff" stroke="none"/>
<ellipse cx="0" cy="0" rx="4.48" ry="12.8" fill="#fff" stroke="none"/>
<path d="M0,-12.8 L8,-12.8 M0,12.8 L8,12.8"/>
<path d="M0,-12.8 A4.48,12.8 0 0 0 0,12.8"/>
<ellipse cx="8" cy="0" rx="4.48" ry="12.8" fill="#fff"/>
</g>
<path d="M747.5,606 L757,606.5" stroke="#9a9a9a" stroke-width="1.12"/>
<g transform="translate(772.5,608.0) rotate(6)" stroke="#9c9c9c" stroke-width="1.40" fill="none">
<path d="M0.0,-12.0 L2.5,-12.0 L2.5,12.0 L0.0,12.0 Z" fill="#fff" stroke="none"/>
<ellipse cx="0" cy="0" rx="3.60" ry="12" fill="#fff" stroke="none"/>
<path d="M0,-12 L2.5,-12 M0,12 L2.5,12"/>
<path d="M0,-12 A3.60,12 0 0 0 0,12"/>
<ellipse cx="2.5" cy="0" rx="3.60" ry="12" fill="#fff"/>
</g>
<g transform="translate(793.5,611.0) rotate(6)" stroke="#9c9c9c" stroke-width="1.40" fill="none">
<path d="M0.0,-13.8 L2.5,-13.8 L2.5,-13.5 L36.0,-13.5 L36.0,-14.5 L40.0,-14.5 L40.0,14.5 L36.0,14.5 L36.0,13.5 L2.5,13.5 L2.5,13.8 L0.0,13.8 Z" fill="#fff" stroke="none"/>
<ellipse cx="0" cy="0" rx="4.14" ry="13.8" fill="#fff" stroke="none"/>
<path d="M0,-13.8 L2.5,-13.8 M0,13.8 L2.5,13.8"/>
<path d="M0,-13.8 A4.14,13.8 0 0 0 0,13.8"/>
<path d="M2.5,-13.5 L36,-13.5 M2.5,13.5 L36,13.5"/>
<path d="M2.5,-13.8 A4.14,13.8 0 0 1 2.5,13.8"/>
<path d="M36,-14.5 L40,-14.5 M36,14.5 L40,14.5"/>
<path d="M36,-14.5 A4.35,14.5 0 0 1 36,14.5"/>
<ellipse cx="40" cy="0" rx="4.35" ry="14.5" fill="#fff"/>
<path d="M6.00,-13.5 A4.05,13.5 0 0 1 6.00,13.5" stroke="#999"/>
<path d="M31.00,-13.5 A4.05,13.5 0 0 1 31.00,13.5" stroke="#999"/>
<path d="M34.00,-13.5 A4.05,13.5 0 0 1 34.00,13.5" stroke="#999"/>
</g>
<g transform="translate(793.5,611.0) rotate(6)" stroke="#666" stroke-width="1.26" fill="none">
<ellipse cx="15" cy="-8.1" rx="1.4" ry="2.1"/>
<ellipse cx="15" cy="0.0" rx="1.4" ry="2.1"/>
<ellipse cx="15" cy="8.1" rx="1.4" ry="2.1"/>
<rect x="21" y="-8.8" width="2.4" height="17.6" rx="1.2"/>
</g>
<g transform="translate(833.5,614.5) rotate(6)" stroke="#9c9c9c" stroke-width="1.40" fill="none">
<path d="M0,-21.6 L8,-21.6 A6.48,21.6 0 0 1 8,21.6 L0,21.6 A6.48,21.6 0 0 1 0,-21.6 Z" fill="#fff"/>
<line x1="-2.38" y1="-20.09" x2="5.62" y2="-20.09" stroke="#555" stroke-width="1.26"/>
<line x1="-3.33" y1="-18.54" x2="4.67" y2="-18.54" stroke="#555" stroke-width="1.26"/>
<line x1="-4.00" y1="-16.99" x2="4.00" y2="-16.99" stroke="#555" stroke-width="1.26"/>
<line x1="-4.53" y1="-15.44" x2="3.47" y2="-15.44" stroke="#555" stroke-width="1.26"/>
<line x1="-4.96" y1="-13.89" x2="3.04" y2="-13.89" stroke="#555" stroke-width="1.26"/>
<line x1="-5.32" y1="-12.34" x2="2.68" y2="-12.34" stroke="#555" stroke-width="1.26"/>
<line x1="-5.61" y1="-10.79" x2="2.39" y2="-10.79" stroke="#555" stroke-width="1.26"/>
<line x1="-5.86" y1="-9.24" x2="2.14" y2="-9.24" stroke="#555" stroke-width="1.26"/>
<line x1="-6.06" y1="-7.69" x2="1.94" y2="-7.69" stroke="#555" stroke-width="1.26"/>
<line x1="-6.21" y1="-6.14" x2="1.79" y2="-6.14" stroke="#555" stroke-width="1.26"/>
<line x1="-6.33" y1="-4.59" x2="1.67" y2="-4.59" stroke="#555" stroke-width="1.26"/>
<line x1="-6.42" y1="-3.04" x2="1.58" y2="-3.04" stroke="#555" stroke-width="1.26"/>
<line x1="-6.46" y1="-1.49" x2="1.54" y2="-1.49" stroke="#555" stroke-width="1.26"/>
<line x1="-6.48" y1="0.06" x2="1.52" y2="0.06" stroke="#555" stroke-width="1.26"/>
<line x1="-6.46" y1="1.61" x2="1.54" y2="1.61" stroke="#555" stroke-width="1.26"/>
<line x1="-6.41" y1="3.16" x2="1.59" y2="3.16" stroke="#555" stroke-width="1.26"/>
<line x1="-6.32" y1="4.71" x2="1.68" y2="4.71" stroke="#555" stroke-width="1.26"/>
<line x1="-6.20" y1="6.26" x2="1.80" y2="6.26" stroke="#555" stroke-width="1.26"/>
<line x1="-6.04" y1="7.81" x2="1.96" y2="7.81" stroke="#555" stroke-width="1.26"/>
<line x1="-5.84" y1="9.36" x2="2.16" y2="9.36" stroke="#555" stroke-width="1.26"/>
<line x1="-5.59" y1="10.91" x2="2.41" y2="10.91" stroke="#555" stroke-width="1.26"/>
<line x1="-5.29" y1="12.46" x2="2.71" y2="12.46" stroke="#555" stroke-width="1.26"/>
<line x1="-4.93" y1="14.01" x2="3.07" y2="14.01" stroke="#555" stroke-width="1.26"/>
<line x1="-4.49" y1="15.56" x2="3.51" y2="15.56" stroke="#555" stroke-width="1.26"/>
<line x1="-3.95" y1="17.11" x2="4.05" y2="17.11" stroke="#555" stroke-width="1.26"/>
<line x1="-3.26" y1="18.66" x2="4.74" y2="18.66" stroke="#555" stroke-width="1.26"/>
<ellipse cx="8" cy="0" rx="6.48" ry="21.6" fill="#fff" stroke="#777" stroke-width="1.54"/>
<ellipse cx="8.6" cy="0" rx="5.05" ry="17.28" fill="none" stroke="#999"/>
<path d="M2.4,20.6 L4.0,24.6 L9.0,24.1 L9.5,20.6" fill="#fff" stroke="#9a9a9a"/>
</g>
<g class="mini" transform="translate(884,670.5) scale(0.42) translate(-711.5,-266.3)">
<g transform="translate(0,0)">
<path d="M668,259 L684,246 L699,215 C703,206 712,204 722,205 C733,206 739,214 740,224 L744,232 L745,258 Z" fill="#fff" stroke="#9c9c9c" stroke-width="1.40"/>
<path d="M686,246 L700,243 L735,247 M690,250 L740,255 M700,217 L705,240" stroke="#999" stroke-width="1.26" fill="none"/>
<path d="M737,228 L745,229 L746,240 L738,240" stroke="#9c9c9c" stroke-width="1.26" fill="none"/>
<ellipse cx="719.5" cy="222.3" rx="18.3" ry="17.2" stroke="#9c9c9c" stroke-width="1.54" fill="#fff"/>
<ellipse cx="719.8" cy="222.8" rx="15.8" ry="14.8" stroke="#9a9a9a" stroke-width="1.40" fill="none"/>
<ellipse cx="720.4" cy="223.4" rx="11.8" ry="11.5" stroke="#777" stroke-width="1.96" fill="#fff"/>
<path d="M711,231 C714,222 722,217 731,218" stroke="#999" stroke-width="1.26" fill="none"/>
<ellipse cx="712" cy="254" rx="6" ry="7" stroke="#9a9a9a" stroke-width="1.40" fill="#fff"/>
<path d="M709,249 L709,259 M712,248 L712,260" stroke="#777" stroke-width="1.12"/>
<g transform="translate(711.5,266.3) rotate(8)" stroke="#9c9c9c" stroke-width="1.54" fill="none">
<clipPath id="cupclip4"><ellipse cx="0" cy="32.3" rx="45.5" ry="10.3"/></clipPath>
<path d="M-48.5,0 L-48.5,32 A48.5,12 0 0 0 48.5,32 L48.5,0 A48.5,6 0 0 0 -48.5,0 Z" fill="#fff"/>
<path d="M-48.5,0 A48.5,6 0 0 1 -30,-4.5"/>
<ellipse cx="0" cy="32" rx="48.5" ry="12"/>
<ellipse cx="0" cy="32.3" rx="45.5" ry="10.3" stroke="#9a9a9a"/>
<g clip-path="url(#cupclip4)">
<path d="M-50,11.5 A50,11.5 0 0 0 50,11.5" stroke="#7e7e7e" stroke-width="1.40"/>
<path d="M-50,13.9 A50,11.5 0 0 0 50,13.9" stroke="#7e7e7e" stroke-width="1.40"/>
<path d="M-50,16.4 A50,11.5 0 0 0 50,16.4" stroke="#7e7e7e" stroke-width="1.40"/>
<path d="M-50,18.9 A50,11.5 0 0 0 50,18.9" stroke="#7e7e7e" stroke-width="1.40"/>
<path d="M-50,21.3 A50,11.5 0 0 0 50,21.3" stroke="#7e7e7e" stroke-width="1.40"/>
<path d="M-50,23.8 A50,11.5 0 0 0 50,23.8" stroke="#7e7e7e" stroke-width="1.40"/>
<path d="M-50,26.2 A50,11.5 0 0 0 50,26.2" stroke="#7e7e7e" stroke-width="1.40"/>
<path d="M-50,28.7 A50,11.5 0 0 0 50,28.7" stroke="#7e7e7e" stroke-width="1.40"/>
<path d="M-50,31.1 A50,11.5 0 0 0 50,31.1" stroke="#7e7e7e" stroke-width="1.40"/>
</g>
</g>
<path d="M747,270 C754,266 757,262 756,258 M749,293 L751,268 M752,296 C756,290 757,280 756,270" stroke="#999" stroke-width="1.26" fill="none"/>
</g>
</g>
<rect x="881.1" y="634.6" width="2.7" height="2.7" rx="0.7" fill="#6a6a6a" stroke="#555" stroke-width="0.98"/>
<rect x="881.0" y="639.7" width="2.1" height="3.6" fill="#fff" stroke="#666" stroke-width="1.12"/>
<line x1="881.0" y1="640.1" x2="883.0" y2="641.1" stroke="#555" stroke-width="1.40"/>
<line x1="881.0" y1="641.0" x2="883.0" y2="642.0" stroke="#555" stroke-width="1.40"/>
<line x1="881.0" y1="641.9" x2="883.0" y2="642.9" stroke="#555" stroke-width="1.40"/>
<line x1="881.0" y1="642.9" x2="883.0" y2="643.9" stroke="#555" stroke-width="1.40"/>
<circle cx="881" cy="646" r="1.3" stroke="#9a9a9a" stroke-width="1.26" fill="none"/>
<rect x="897.9" y="637.9" width="2.7" height="2.7" rx="0.7" fill="#6a6a6a" stroke="#555" stroke-width="0.98"/>
<rect x="897.8" y="642.7" width="2.1" height="3.6" fill="#fff" stroke="#666" stroke-width="1.12"/>
<line x1="897.8" y1="643.1" x2="899.8" y2="644.1" stroke="#555" stroke-width="1.40"/>
<line x1="897.8" y1="644.0" x2="899.8" y2="645.0" stroke="#555" stroke-width="1.40"/>
<line x1="897.8" y1="644.9" x2="899.8" y2="645.9" stroke="#555" stroke-width="1.40"/>
<line x1="897.8" y1="645.9" x2="899.8" y2="646.9" stroke="#555" stroke-width="1.40"/>
<circle cx="898" cy="649" r="1.3" stroke="#9a9a9a" stroke-width="1.26" fill="none"/>
<rect x="899.6" y="649.6" width="2.7" height="2.7" rx="0.7" fill="#6a6a6a" stroke="#555" stroke-width="0.98"/>
<circle cx="904" cy="662.5" r="3" fill="#333" stroke="#222" stroke-width="1.12"/>
<path d="M895,663 L899,661 L900,666 Z" fill="#333"/>
<g transform="translate(906.0,663.5) rotate(6)" stroke="#9c9c9c" stroke-width="1.40" fill="none">
<path d="M0.0,-2.0 L4.0,-2.0 L4.0,2.0 L0.0,2.0 Z" fill="#fff" stroke="none"/>
<ellipse cx="0" cy="0" rx="0.80" ry="2" fill="#fff" stroke="none"/>
<path d="M0,-2 L4,-2 M0,2 L4,2"/>
<path d="M0,-2 A0.80,2 0 0 0 0,2"/>
<ellipse cx="4" cy="0" rx="0.80" ry="2" fill="#fff"/>
</g>
<g transform="translate(905.0,668.5) rotate(7)" stroke="#9c9c9c" stroke-width="1.40" fill="none">
<path d="M0.0,-4.5 L4.0,-4.5 L4.0,-4.8 L10.0,-4.8 L10.0,-5.3 L14.0,-5.3 L14.0,5.3 L10.0,5.3 L10.0,4.8 L4.0,4.8 L4.0,4.5 L0.0,4.5 Z" fill="#fff" stroke="none"/>
<ellipse cx="0" cy="0" rx="1.35" ry="4.5" fill="#fff" stroke="none"/>
<path d="M0,-4.5 L4,-4.5 M0,4.5 L4,4.5"/>
<path d="M0,-4.5 A1.35,4.5 0 0 0 0,4.5"/>
<path d="M4,-4.8 L10,-4.8 M4,4.8 L10,4.8"/>
<path d="M4,-4.8 A1.44,4.8 0 0 1 4,4.8"/>
<path d="M10,-5.3 L14,-5.3 M10,5.3 L14,5.3"/>
<path d="M10,-5.3 A1.59,5.3 0 0 1 10,5.3"/>
<ellipse cx="14" cy="0" rx="1.59" ry="5.3" fill="#fff"/>
<path d="M4.00,-4.8 A1.44,4.8 0 0 1 4.00,4.8" stroke="#777"/>
<path d="M6.00,-4.8 A1.44,4.8 0 0 1 6.00,4.8" stroke="#777"/>
<path d="M8.00,-4.8 A1.44,4.8 0 0 1 8.00,4.8" stroke="#777"/>
<path d="M10.00,-4.8 A1.44,4.8 0 0 1 10.00,4.8" stroke="#777"/>
</g>
<g transform="translate(919.0,670.0) rotate(7)" stroke="#9c9c9c" stroke-width="1.40" fill="none">
<path d="M0.0,-2.8 L30.0,-2.8 L30.0,2.8 L0.0,2.8 Z" fill="#fff" stroke="none"/>
<ellipse cx="0" cy="0" rx="0.98" ry="2.8" fill="#fff" stroke="none"/>
<path d="M0,-2.8 L30,-2.8 M0,2.8 L30,2.8"/>
<path d="M0,-2.8 A0.98,2.8 0 0 0 0,2.8"/>
<ellipse cx="30" cy="0" rx="0.98" ry="2.8" fill="#fff"/>
</g>
<circle cx="935" cy="671.5" r="0.8" fill="#666"/>
<g transform="translate(952.0,675.2) rotate(6)" stroke="#9c9c9c" stroke-width="1.40" fill="none">
<path d="M0.0,-4.7 L3.0,-4.7 L3.0,4.7 L0.0,4.7 Z" fill="#fff" stroke="none"/>
<ellipse cx="0" cy="0" rx="1.65" ry="4.7" fill="#fff" stroke="none"/>
<path d="M0,-4.7 L3,-4.7 M0,4.7 L3,4.7"/>
<path d="M0,-4.7 A1.65,4.7 0 0 0 0,4.7"/>
<ellipse cx="3" cy="0" rx="1.65" ry="4.7" fill="#fff"/>
</g>
<g transform="translate(958.5,676.5) rotate(6)" stroke="#9c9c9c" stroke-width="1.40" fill="none">
<path d="M0.0,-4.2 L1.5,-4.2 L1.5,4.2 L0.0,4.2 Z" fill="#fff" stroke="none"/>
<ellipse cx="0" cy="0" rx="1.47" ry="4.2" fill="#fff" stroke="none"/>
<path d="M0,-4.2 L1.5,-4.2 M0,4.2 L1.5,4.2"/>
<path d="M0,-4.2 A1.47,4.2 0 0 0 0,4.2"/>
<ellipse cx="1.5" cy="0" rx="1.47" ry="4.2" fill="#fff"/>
</g>
<g transform="translate(964.0,677.5) rotate(6)" stroke="#9c9c9c" stroke-width="1.40" fill="none">
<path d="M0.0,-4.8 L9.0,-4.8 L9.0,4.8 L0.0,4.8 Z" fill="#fff" stroke="none"/>
<ellipse cx="0" cy="0" rx="1.68" ry="4.8" fill="#fff" stroke="none"/>
<path d="M0,-4.8 L9,-4.8 M0,4.8 L9,4.8"/>
<path d="M0,-4.8 A1.68,4.8 0 0 0 0,4.8"/>
<ellipse cx="9" cy="0" rx="1.68" ry="4.8" fill="#fff"/>
<path d="M2.00,-4.8 A1.68,4.8 0 0 1 2.00,4.8" stroke="#777"/>
<path d="M4.00,-4.8 A1.68,4.8 0 0 1 4.00,4.8" stroke="#777"/>
<path d="M6.00,-4.8 A1.68,4.8 0 0 1 6.00,4.8" stroke="#777"/>
<path d="M8.00,-4.8 A1.68,4.8 0 0 1 8.00,4.8" stroke="#777"/>
</g>
<g transform="translate(979.0,680.0) rotate(6)" stroke="#555" stroke-width="1.40" fill="none">
<path d="M0.0,-7.8 L4.0,-7.8 L4.0,7.8 L0.0,7.8 Z" fill="#fff" stroke="none"/>
<ellipse cx="0" cy="0" rx="2.34" ry="7.8" fill="#fff" stroke="none"/>
<path d="M0,-7.8 L4,-7.8 M0,7.8 L4,7.8"/>
<path d="M0,-7.8 A2.34,7.8 0 0 0 0,7.8"/>
<ellipse cx="4" cy="0" rx="2.34" ry="7.8" fill="#fff"/>
<path d="M0.00,-7.8 A2.34,7.8 0 0 1 0.00,7.8" stroke="#555"/>
<path d="M1.20,-7.8 A2.34,7.8 0 0 1 1.20,7.8" stroke="#555"/>
<path d="M2.40,-7.8 A2.34,7.8 0 0 1 2.40,7.8" stroke="#555"/>
<path d="M3.60,-7.8 A2.34,7.8 0 0 1 3.60,7.8" stroke="#555"/>
</g>
<g transform="translate(979,680) rotate(6)"><ellipse cx="4" cy="0" rx="1.8" ry="6.1" fill="#fff" stroke="#777"/></g>
<g transform="translate(990.0,681.0) rotate(6)" stroke="#9c9c9c" stroke-width="1.40" fill="none">
<path d="M0.0,-3.6 L6.0,-3.6 L6.0,3.6 L0.0,3.6 Z" fill="#fff" stroke="none"/>
<ellipse cx="0" cy="0" rx="1.26" ry="3.6" fill="#fff" stroke="none"/>
<path d="M0,-3.6 L6,-3.6 M0,3.6 L6,3.6"/>
<path d="M0,-3.6 A1.26,3.6 0 0 0 0,3.6"/>
<ellipse cx="6" cy="0" rx="1.26" ry="3.6" fill="#fff"/>
</g>
<g transform="translate(1000.5,682.0) rotate(6)" stroke="#9c9c9c" stroke-width="1.40" fill="none">
<path d="M0.0,-4.6 L1.5,-4.6 L1.5,4.6 L0.0,4.6 Z" fill="#fff" stroke="none"/>
<ellipse cx="0" cy="0" rx="1.38" ry="4.6" fill="#fff" stroke="none"/>
<path d="M0,-4.6 L1.5,-4.6 M0,4.6 L1.5,4.6"/>
<path d="M0,-4.6 A1.38,4.6 0 0 0 0,4.6"/>
<ellipse cx="1.5" cy="0" rx="1.38" ry="4.6" fill="#fff"/>
</g>
<path d="M1009,681 C1009,678 1012,677.5 1015,678 C1018,679 1018.5,684 1016,686 L1012,703 C1011,704.5 1007,704.5 1006.5,703 L1008,687 Z" fill="#fff" stroke="#9a9a9a" stroke-width="1.26"/>
<ellipse cx="1009" cy="682" rx="1.5" ry="4" stroke="#666" stroke-width="1.26" fill="none"/>
<rect x="1014" y="666.5" width="2.2" height="4" fill="#333"/>
<ellipse cx="880.0" cy="692.5" rx="5.2" ry="1.8" transform="rotate(8 880.0 692.5)" stroke="#9a9a9a" stroke-width="1.40" fill="#e2e2e2"/>
<ellipse cx="879.0" cy="700.8" rx="11.0" ry="2.4" transform="rotate(8 879.0 700.8)" stroke="#777" stroke-width="1.40" fill="#e6e6e6"/>
<ellipse cx="878.0" cy="707.3" rx="5.5" ry="2.0" transform="rotate(8 878.0 707.3)" stroke="#9a9a9a" stroke-width="1.40" fill="#e2e2e2"/>
<rect x="875.5" y="711" width="2.5" height="1.4" fill="#444"/>
<g transform="translate(876.9,716.5) rotate(10)" stroke="#9c9c9c" stroke-width="1.12" fill="none">
<path d="M-1.3,0.0 L-1.3,38.0 L1.3,38.0 L1.3,0.0 Z" fill="#fff" stroke="none"/>
<ellipse cx="0" cy="0" rx="1.3" ry="0.65" fill="#fff" stroke="none"/>
<ellipse cx="0" cy="38" rx="1.3" ry="0.65" fill="#fff" stroke="none"/>
<ellipse cx="0" cy="0" rx="1.3" ry="0.65"/>
<path d="M-1.3,0 L-1.3,38 M1.3,0 L1.3,38"/>
<path d="M-1.3,38 A1.3,0.65 0 0 0 1.3,38"/>
</g>
<rect x="868" y="758.5" width="3" height="1.5" fill="#444" transform="rotate(10 869.5 759.3)"/>
<g transform="translate(870.9,763.5) rotate(11.5)" stroke="#9c9c9c" stroke-width="1.12" fill="none">
<path d="M-2.2,0.0 L-2.2,50.0 L2.2,50.0 L2.2,0.0 Z" fill="#fff" stroke="none"/>
<ellipse cx="0" cy="0" rx="2.2" ry="0.88" fill="#fff" stroke="none"/>
<ellipse cx="0" cy="50" rx="2.2" ry="0.88" fill="#fff" stroke="none"/>
<ellipse cx="0" cy="0" rx="2.2" ry="0.88"/>
<path d="M-2.2,0 L-2.2,50 M2.2,0 L2.2,50"/>
<path d="M-2.2,50 A2.2,0.88 0 0 0 2.2,50"/>
</g>
<g transform="translate(860.0,815.5) rotate(11)" stroke="#9c9c9c" stroke-width="1.26" fill="none">
<path d="M-3.6,0.0 L-3.6,1.5 L-3.9,1.5 L-3.9,49.0 L3.9,49.0 L3.9,1.5 L3.6,1.5 L3.6,0.0 Z" fill="#fff" stroke="none"/>
<ellipse cx="0" cy="0" rx="3.6" ry="1.26" fill="#fff" stroke="none"/>
<ellipse cx="0" cy="49" rx="3.9" ry="1.36" fill="#fff" stroke="none"/>
<ellipse cx="0" cy="0" rx="3.6" ry="1.26"/>
<path d="M-3.6,0 L-3.6,1.5 M3.6,0 L3.6,1.5"/>
<path d="M-3.6,1.5 A3.6,1.26 0 0 0 3.6,1.5"/>
<path d="M-3.9,1.5 L-3.9,49 M3.9,1.5 L3.9,49"/>
<path d="M-3.9,49 A3.9,1.36 0 0 0 3.9,49"/>
<path d="M-3.9,1.5 A3.9,1.36 0 0 0 3.9,1.5"/>
<path d="M-3.9,2.00 A3.9,1.36 0 0 0 3.9,2.00" stroke="#444"/>
<path d="M-3.9,3.00 A3.9,1.36 0 0 0 3.9,3.00" stroke="#444"/>
<path d="M-3.9,4.00 A3.9,1.36 0 0 0 3.9,4.00" stroke="#444"/>
<path d="M-3.9,5.00 A3.9,1.36 0 0 0 3.9,5.00" stroke="#444"/>
<path d="M-3.9,6.00 A3.9,1.36 0 0 0 3.9,6.00" stroke="#444"/>
<path d="M-3.9,7.00 A3.9,1.36 0 0 0 3.9,7.00" stroke="#444"/>
</g>
<g transform="translate(851.0,865.5) rotate(8)" stroke="#9c9c9c" stroke-width="1.12" fill="none">
<path d="M-1.9,0.0 L-1.9,6.0 L-2.2,6.0 L-2.2,12.0 L2.2,12.0 L2.2,6.0 L1.9,6.0 L1.9,0.0 Z" fill="#fff" stroke="none"/>
<ellipse cx="0" cy="0" rx="1.9" ry="0.76" fill="#fff" stroke="none"/>
<ellipse cx="0" cy="12" rx="2.2" ry="0.88" fill="#fff" stroke="none"/>
<ellipse cx="0" cy="0" rx="1.9" ry="0.76"/>
<path d="M-1.9,0 L-1.9,6 M1.9,0 L1.9,6"/>
<path d="M-1.9,6 A1.9,0.76 0 0 0 1.9,6"/>
<path d="M-2.2,6 L-2.2,12 M2.2,6 L2.2,12"/>
<path d="M-2.2,12 A2.2,0.88 0 0 0 2.2,12"/>
<path d="M-2.2,6 A2.2,0.88 0 0 0 2.2,6"/>
<path d="M-2.2,6.50 A2.2,0.88 0 0 0 2.2,6.50" stroke="#333"/>
<path d="M-2.2,7.30 A2.2,0.88 0 0 0 2.2,7.30" stroke="#333"/>
<path d="M-2.2,8.10 A2.2,0.88 0 0 0 2.2,8.10" stroke="#333"/>
<path d="M-2.2,8.90 A2.2,0.88 0 0 0 2.2,8.90" stroke="#333"/>
<path d="M-2.2,9.70 A2.2,0.88 0 0 0 2.2,9.70" stroke="#333"/>
<path d="M-2.2,10.50 A2.2,0.88 0 0 0 2.2,10.50" stroke="#333"/>
<path d="M-2.2,11.30 A2.2,0.88 0 0 0 2.2,11.30" stroke="#333"/>
</g>
<rect x="841" y="865" width="3.4" height="3.4" fill="#333"/>
<circle cx="841.6" cy="874.7" r="1.8" stroke="#9a9a9a" stroke-width="0.98" fill="none"/>
<g transform="translate(846.2,882.5) rotate(6)" stroke="#9c9c9c" stroke-width="1.26" fill="none">
<path d="M-9.0,0.0 L-9.0,7.5 L9.0,7.5 L9.0,0.0 Z" fill="#fff" stroke="none"/>
<ellipse cx="0" cy="0" rx="9" ry="1.80" fill="#fff" stroke="none"/>
<ellipse cx="0" cy="7.5" rx="9" ry="1.80" fill="#fff" stroke="none"/>
<ellipse cx="0" cy="0" rx="9" ry="1.80"/>
<path d="M-9,0 L-9,7.5 M9,0 L9,7.5"/>
<path d="M-9,7.5 A9,1.80 0 0 0 9,7.5"/>
</g>
<g transform="translate(846.6,891.0) rotate(7)" stroke="#9c9c9c" stroke-width="1.40" fill="none">
<path d="M-16.5,0.0 L-16.5,11.0 L16.5,11.0 L16.5,0.0 Z" fill="#fff" stroke="none"/>
<ellipse cx="0" cy="0" rx="16.5" ry="1.65" fill="#fff" stroke="none"/>
<ellipse cx="0" cy="11" rx="16.5" ry="1.65" fill="#fff" stroke="none"/>
<ellipse cx="0" cy="0" rx="16.5" ry="1.65"/>
<path d="M-16.5,0 L-16.5,11 M16.5,0 L16.5,11"/>
<path d="M-16.5,11 A16.5,1.65 0 0 0 16.5,11"/>
<path d="M-16.5,2.00 A16.5,1.65 0 0 0 16.5,2.00" stroke="#777" stroke-width="1.12"/>
<path d="M-16.5,4.60 A16.5,1.65 0 0 0 16.5,4.60" stroke="#777" stroke-width="1.12"/>
<path d="M-16.5,7.20 A16.5,1.65 0 0 0 16.5,7.20" stroke="#777" stroke-width="1.12"/>
<path d="M-16.5,9.80 A16.5,1.65 0 0 0 16.5,9.80" stroke="#777" stroke-width="1.12"/>
</g>
<g transform="translate(843.6,905.5) rotate(9)" stroke="#9c9c9c" stroke-width="1.12" fill="none">
<path d="M-1.1,0.0 L-1.1,14.0 L1.1,14.0 L1.1,0.0 Z" fill="#fff" stroke="none"/>
<ellipse cx="0" cy="0" rx="1.1" ry="0.55" fill="#fff" stroke="none"/>
<ellipse cx="0" cy="14" rx="1.1" ry="0.55" fill="#fff" stroke="none"/>
<ellipse cx="0" cy="0" rx="1.1" ry="0.55"/>
<path d="M-1.1,0 L-1.1,14 M1.1,0 L1.1,14"/>
<path d="M-1.1,14 A1.1,0.55 0 0 0 1.1,14"/>
<path d="M-1.1,0.00 A1.1,0.55 0 0 0 1.1,0.00" stroke="#555"/>
<path d="M-1.1,1.00 A1.1,0.55 0 0 0 1.1,1.00" stroke="#555"/>
<path d="M-1.1,2.00 A1.1,0.55 0 0 0 1.1,2.00" stroke="#555"/>
<path d="M-1.1,3.00 A1.1,0.55 0 0 0 1.1,3.00" stroke="#555"/>
<path d="M-1.1,4.00 A1.1,0.55 0 0 0 1.1,4.00" stroke="#555"/>
<path d="M-1.1,5.00 A1.1,0.55 0 0 0 1.1,5.00" stroke="#555"/>
<path d="M-1.1,6.00 A1.1,0.55 0 0 0 1.1,6.00" stroke="#555"/>
<path d="M-1.1,7.00 A1.1,0.55 0 0 0 1.1,7.00" stroke="#555"/>
<path d="M-1.1,8.00 A1.1,0.55 0 0 0 1.1,8.00" stroke="#555"/>
</g>
<g transform="translate(840.6,922.5) rotate(8)" stroke="#9c9c9c" stroke-width="1.26" fill="none">
<path d="M-10.9,0.0 L-10.9,2.0 L-10.0,2.0 L-10.0,6.0 L-10.9,6.0 L-10.9,10.0 L-4.0,10.0 L-4.0,12.0 L4.0,12.0 L4.0,10.0 L10.9,10.0 L10.9,6.0 L10.0,6.0 L10.0,2.0 L10.9,2.0 L10.9,0.0 Z" fill="#fff" stroke="none"/>
<ellipse cx="0" cy="0" rx="10.9" ry="1.64" fill="#fff" stroke="none"/>
<ellipse cx="0" cy="12" rx="4" ry="0.60" fill="#fff" stroke="none"/>
<ellipse cx="0" cy="0" rx="10.9" ry="1.64"/>
<path d="M-10.9,0 L-10.9,2 M10.9,0 L10.9,2"/>
<path d="M-10.9,2 A10.9,1.64 0 0 0 10.9,2"/>
<path d="M-10,2 L-10,6 M10,2 L10,6"/>
<path d="M-10,6 A10,1.50 0 0 0 10,6"/>
<path d="M-10.9,2 A10.9,1.64 0 0 0 10.9,2"/>
<path d="M-10.9,6 L-10.9,10 M10.9,6 L10.9,10"/>
<path d="M-10.9,10 A10.9,1.64 0 0 0 10.9,10"/>
<path d="M-10.9,6 A10.9,1.64 0 0 0 10.9,6"/>
<path d="M-4,10 L-4,12 M4,10 L4,12"/>
<path d="M-4,12 A4,0.60 0 0 0 4,12"/>
<path d="M-10.9,10 A10.9,1.64 0 0 0 10.9,10"/>
<path d="M-10,3.00 A10,1.50 0 0 0 10,3.00" stroke="#9a9a9a" stroke-width="0.98"/>
<path d="M-10,5.00 A10,1.50 0 0 0 10,5.00" stroke="#9a9a9a" stroke-width="0.98"/>
</g>
<ellipse cx="837.6" cy="946.0" rx="11.0" ry="2.2" transform="rotate(9 837.6 946.0)" stroke="#9a9a9a" stroke-width="1.40" fill="#e6e6e6"/>
<g transform="translate(835.7,957.5) rotate(9)" stroke="#9c9c9c" stroke-width="1.26" fill="none">
<path d="M-11.3,0.0 L-11.3,6.0 L11.3,6.0 L11.3,0.0 Z" fill="#fff" stroke="none"/>
<ellipse cx="0" cy="0" rx="11.3" ry="1.36" fill="#fff" stroke="none"/>
<ellipse cx="0" cy="6" rx="11.3" ry="1.36" fill="#fff" stroke="none"/>
<ellipse cx="0" cy="0" rx="11.3" ry="1.36"/>
<path d="M-11.3,0 L-11.3,6 M11.3,0 L11.3,6"/>
<path d="M-11.3,6 A11.3,1.36 0 0 0 11.3,6"/>
<path d="M-11.3,2.00 A11.3,1.36 0 0 0 11.3,2.00" stroke="#9a9a9a" stroke-width="0.98"/>
<path d="M-11.3,4.00 A11.3,1.36 0 0 0 11.3,4.00" stroke="#9a9a9a" stroke-width="0.98"/>
</g>
<g transform="translate(832.7,970.5) rotate(9)" stroke="#9c9c9c" stroke-width="1.40" fill="none">
<path d="M-12.0,0.0 L-12.0,1.5 L-12.0,1.5 L-12.0,52.0 L12.0,52.0 L12.0,1.5 L12.0,1.5 L12.0,0.0 Z" fill="#fff" stroke="none"/>
<ellipse cx="0" cy="0" rx="12" ry="1.44" fill="#fff" stroke="none"/>
<ellipse cx="0" cy="52" rx="12" ry="1.44" fill="#fff" stroke="none"/>
<ellipse cx="0" cy="0" rx="12" ry="1.44"/>
<path d="M-12,0 L-12,1.5 M12,0 L12,1.5"/>
<path d="M-12,1.5 A12,1.44 0 0 0 12,1.5"/>
<path d="M-12,1.5 L-12,52 M12,1.5 L12,52"/>
<path d="M-12,52 A12,1.44 0 0 0 12,52"/>
<path d="M-12,2.00 A12,1.44 0 0 0 12,2.00" stroke="#555"/>
<path d="M-12,2.80 A12,1.44 0 0 0 12,2.80" stroke="#555"/>
<path d="M-12,3.60 A12,1.44 0 0 0 12,3.60" stroke="#555"/>
<path d="M-12,4.40 A12,1.44 0 0 0 12,4.40" stroke="#555"/>
<path d="M-12,5.20 A12,1.44 0 0 0 12,5.20" stroke="#555"/>
<path d="M-12,6.00 A12,1.44 0 0 0 12,6.00" stroke="#555"/>
<path d="M-12,6.80 A12,1.44 0 0 0 12,6.80" stroke="#555"/>
<path d="M-12,7.60 A12,1.44 0 0 0 12,7.60" stroke="#555"/>
<path d="M-12,8.40 A12,1.44 0 0 0 12,8.40" stroke="#555"/>
</g>
<path d="M813.5,1022 C812,1030 812.5,1040 817,1044 C822,1047 828,1046 831,1040 C834,1034 836,1028 837.5,1023" stroke="#9a9a9a" stroke-width="1.40" fill="#fff"/>
<circle cx="820.8" cy="1036" r="6.3" stroke="#777" stroke-width="1.54" fill="none"/>
<path d="M815,1034 L820,1036" stroke="#9a9a9a" stroke-width="1.12"/>
<g transform="translate(835.5,1033.5) rotate(-55)" stroke="#9c9c9c" stroke-width="1.12" fill="none">
<path d="M-1.0,0.0 L-1.0,5.0 L-2.5,5.0 L-2.5,12.0 L2.5,12.0 L2.5,5.0 L1.0,5.0 L1.0,0.0 Z" fill="#fff" stroke="none"/>
<ellipse cx="0" cy="0" rx="1" ry="0.45" fill="#fff" stroke="none"/>
<ellipse cx="0" cy="12" rx="2.5" ry="1.12" fill="#fff" stroke="none"/>
<ellipse cx="0" cy="0" rx="1" ry="0.45"/>
<path d="M-1,0 L-1,5 M1,0 L1,5"/>
<path d="M-1,5 A1,0.45 0 0 0 1,5"/>
<path d="M-2.5,5 L-2.5,12 M2.5,5 L2.5,12"/>
<path d="M-2.5,12 A2.5,1.12 0 0 0 2.5,12"/>
<path d="M-2.5,5 A2.5,1.12 0 0 0 2.5,5"/>
<path d="M-2.5,5.00 A2.5,1.12 0 0 0 2.5,5.00" stroke="#333"/>
<path d="M-2.5,6.00 A2.5,1.12 0 0 0 2.5,6.00" stroke="#333"/>
<path d="M-2.5,7.00 A2.5,1.12 0 0 0 2.5,7.00" stroke="#333"/>
<path d="M-2.5,8.00 A2.5,1.12 0 0 0 2.5,8.00" stroke="#333"/>
<path d="M-2.5,9.00 A2.5,1.12 0 0 0 2.5,9.00" stroke="#333"/>
<path d="M-2.5,10.00 A2.5,1.12 0 0 0 2.5,10.00" stroke="#333"/>
<path d="M-2.5,11.00 A2.5,1.12 0 0 0 2.5,11.00" stroke="#333"/>
<path d="M-2.5,12.00 A2.5,1.12 0 0 0 2.5,12.00" stroke="#333"/>
</g>
<g transform="translate(848.5,1042.0) rotate(-55)" stroke="#9c9c9c" stroke-width="1.12" fill="none">
<path d="M-3.5,0.0 L-3.5,7.0 L3.5,7.0 L3.5,0.0 Z" fill="#fff" stroke="none"/>
<ellipse cx="0" cy="0" rx="3.5" ry="1.75" fill="#fff" stroke="none"/>
<ellipse cx="0" cy="7" rx="3.5" ry="1.75" fill="#fff" stroke="none"/>
<ellipse cx="0" cy="0" rx="3.5" ry="1.75"/>
<path d="M-3.5,0 L-3.5,7 M3.5,0 L3.5,7"/>
<path d="M-3.5,7 A3.5,1.75 0 0 0 3.5,7"/>
<path d="M-3.5,0.00 A3.5,1.75 0 0 0 3.5,0.00" stroke="#333"/>
<path d="M-3.5,1.00 A3.5,1.75 0 0 0 3.5,1.00" stroke="#333"/>
<path d="M-3.5,2.00 A3.5,1.75 0 0 0 3.5,2.00" stroke="#333"/>
<path d="M-3.5,3.00 A3.5,1.75 0 0 0 3.5,3.00" stroke="#333"/>
<path d="M-3.5,4.00 A3.5,1.75 0 0 0 3.5,4.00" stroke="#333"/>
<path d="M-3.5,5.00 A3.5,1.75 0 0 0 3.5,5.00" stroke="#333"/>
<path d="M-3.5,6.00 A3.5,1.75 0 0 0 3.5,6.00" stroke="#333"/>
<path d="M-3.5,7.00 A3.5,1.75 0 0 0 3.5,7.00" stroke="#333"/>
</g>
<path d="M511.8,596.5 L509.8,611.5 M516.5,597 L514.5,612" stroke="#999" stroke-width="1.26" fill="none"/>
<circle cx="512" cy="607.5" r="1.3" fill="#9a9a9a"/>
<text x="499.7" y="168.7" font-size="12.2" font-weight="bold" fill="#1a1a1a" textLength="25.6" lengthAdjust="spacingAndGlyphs">10, 14</text>
<text x="510.5" y="188.3" font-size="12.2" font-weight="bold" fill="#1a1a1a" textLength="26.2" lengthAdjust="spacingAndGlyphs">10, 14</text>
<text x="518.7" y="202.5" font-size="12.2" font-weight="bold" fill="#1a1a1a" textLength="26.0" lengthAdjust="spacingAndGlyphs">10, 14</text>
<text x="513.0" y="258.7" font-size="12.2" font-weight="bold" fill="#1a1a1a" textLength="22.0" lengthAdjust="spacingAndGlyphs">10, D</text>
<text x="496.7" y="320.0" font-size="12.2" font-weight="bold" fill="#1a1a1a" textLength="25.8" lengthAdjust="spacingAndGlyphs">10, 14</text>
<text x="502.2" y="391.7" font-size="12.2" font-weight="bold" fill="#1a1a1a" textLength="9.5" lengthAdjust="spacingAndGlyphs">10</text>
<text x="479.7" y="502.5" font-size="12.2" font-weight="bold" fill="#1a1a1a" textLength="9.5" lengthAdjust="spacingAndGlyphs">10</text>
<text x="445.8" y="594.2" font-size="10.7" font-weight="bold" fill="#1a1a1a" textLength="37.2" lengthAdjust="spacingAndGlyphs">11, 14, 15</text>
<text x="430.8" y="614.2" font-size="10.7" font-weight="bold" fill="#1a1a1a" textLength="48.4" lengthAdjust="spacingAndGlyphs">11, 14, 15, N</text>
<text x="446.3" y="653.3" font-size="12.2" font-weight="bold" fill="#1a1a1a" textLength="7.9" lengthAdjust="spacingAndGlyphs">11</text>
<text x="152.4" y="475.9" font-size="10.7" font-weight="bold" fill="#1a1a1a" textLength="41.6" lengthAdjust="spacingAndGlyphs">14, 18, F, G</text>
<text x="294.9" y="472.0" font-size="10.7" font-weight="bold" fill="#1a1a1a" textLength="41.4" lengthAdjust="spacingAndGlyphs">15, 19, F, G</text>
<text x="295.3" y="661.5" font-size="12.2" font-weight="bold" fill="#1a1a1a" textLength="5.7" lengthAdjust="spacingAndGlyphs">2</text>
<text x="432.8" y="702.0" font-size="12.2" font-weight="bold" fill="#1a1a1a" textLength="5.6" lengthAdjust="spacingAndGlyphs">3</text>
<text x="267.6" y="791.7" font-size="10.7" font-weight="bold" fill="#1a1a1a" textLength="42.3" lengthAdjust="spacingAndGlyphs">14, 18, F, G</text>
<text x="414.0" y="774.8" font-size="10.7" font-weight="bold" fill="#1a1a1a" textLength="40.8" lengthAdjust="spacingAndGlyphs">15, 19, F, G</text>
<text x="409.6" y="810.6" font-size="10.7" font-weight="bold" fill="#1a1a1a" textLength="40.9" lengthAdjust="spacingAndGlyphs">15, 19, F, G</text>
<text x="412.5" y="884.4" font-size="12.2" font-weight="bold" fill="#1a1a1a" textLength="5.9" lengthAdjust="spacingAndGlyphs">3</text>
<text x="384.8" y="941.3" font-size="10.7" font-weight="bold" fill="#1a1a1a" textLength="21.9" lengthAdjust="spacingAndGlyphs">15, 19</text>
<text x="208.3" y="962.3" font-size="10.7" font-weight="bold" fill="#1a1a1a" textLength="42.3" lengthAdjust="spacingAndGlyphs">15, 19, F, G</text>
<text x="449.6" y="729.6" font-size="12.2" font-weight="bold" fill="#1a1a1a" textLength="10.2" lengthAdjust="spacingAndGlyphs">12</text>
<text x="538.5" y="779.8" font-size="12.2" font-weight="bold" fill="#1a1a1a" textLength="26.3" lengthAdjust="spacingAndGlyphs">14, 15</text>
<text x="530.6" y="823.6" font-size="12.2" font-weight="bold" fill="#1a1a1a" textLength="26.7" lengthAdjust="spacingAndGlyphs">13, 14</text>
<text x="524.8" y="860.5" font-size="12.2" font-weight="bold" fill="#1a1a1a" textLength="27.3" lengthAdjust="spacingAndGlyphs">13, 14</text>
<text x="512.1" y="946.7" font-size="12.2" font-weight="bold" fill="#1a1a1a" textLength="10.3" lengthAdjust="spacingAndGlyphs">13</text>
<text x="519.7" y="1007.5" font-size="10.7" font-weight="bold" fill="#1a1a1a" textLength="36.9" lengthAdjust="spacingAndGlyphs">13, 14, 16</text>
<text x="538.5" y="1019.5" font-size="10.7" font-weight="bold" fill="#1a1a1a" textLength="22.2" lengthAdjust="spacingAndGlyphs">13, 14</text>
<text x="553.8" y="1032.1" font-size="10.7" font-weight="bold" fill="#1a1a1a" textLength="22.2" lengthAdjust="spacingAndGlyphs">13, 14</text>
<text x="413.7" y="1073.8" font-size="10.7" font-weight="bold" fill="#1a1a1a" textLength="36.9" lengthAdjust="spacingAndGlyphs">13, 14, 15</text>
<text x="627.0" y="190.0" font-size="12.2" font-weight="bold" fill="#1a1a1a" textLength="41.7" lengthAdjust="spacingAndGlyphs">14, 15, 17</text>
<text x="677.0" y="192.5" font-size="10.5" font-weight="bold" fill="#1a1a1a" textLength="18.0" lengthAdjust="spacingAndGlyphs">4, 14</text>
<text x="794.2" y="191.7" font-size="12.2" font-weight="bold" fill="#1a1a1a" textLength="21.6" lengthAdjust="spacingAndGlyphs">4, 14</text>
<text x="826.7" y="212.5" font-size="12.2" font-weight="bold" fill="#1a1a1a" textLength="42.5" lengthAdjust="spacingAndGlyphs">14, 15, 16</text>
<text x="815.8" y="233.3" font-size="12.2" font-weight="bold" fill="#1a1a1a" textLength="5.0" lengthAdjust="spacingAndGlyphs">4</text>
<text x="643.0" y="224.7" font-size="12.2" font-weight="bold" fill="#1a1a1a" textLength="25.7" lengthAdjust="spacingAndGlyphs">14, 15</text>
<text x="689.7" y="285.3" font-size="12.2" font-weight="bold" fill="#1a1a1a" textLength="41.6" lengthAdjust="spacingAndGlyphs">6, 10, 11</text>
<text x="625.0" y="288.0" font-size="12.2" font-weight="bold" fill="#1a1a1a" textLength="9.7" lengthAdjust="spacingAndGlyphs">14</text>
<text x="782.5" y="312.5" font-size="12.2" font-weight="bold" fill="#1a1a1a" textLength="4.6" lengthAdjust="spacingAndGlyphs">4</text>
<text x="804.2" y="315.0" font-size="12.2" font-weight="bold" fill="#1a1a1a" textLength="5.0" lengthAdjust="spacingAndGlyphs">4</text>
<text x="847.5" y="315.8" font-size="12.2" font-weight="bold" fill="#1a1a1a" textLength="5.0" lengthAdjust="spacingAndGlyphs">4</text>
<text x="893.3" y="327.5" font-size="12.2" font-weight="bold" fill="#1a1a1a" textLength="4.6" lengthAdjust="spacingAndGlyphs">4</text>
<text x="910.0" y="329.2" font-size="12.2" font-weight="bold" fill="#1a1a1a" textLength="4.7" lengthAdjust="spacingAndGlyphs">4</text>
<text x="961.7" y="251.7" font-size="12.2" font-weight="bold" fill="#1a1a1a" textLength="5.0" lengthAdjust="spacingAndGlyphs">4</text>
<text x="966.7" y="344.7" font-size="12.2" font-weight="bold" fill="#1a1a1a" textLength="4.8" lengthAdjust="spacingAndGlyphs">4</text>
<text x="999.3" y="248.0" font-size="12.2" font-weight="bold" fill="#1a1a1a" textLength="4.8" lengthAdjust="spacingAndGlyphs">4</text>
<text x="1028.0" y="245.3" font-size="12.2" font-weight="bold" fill="#1a1a1a" textLength="4.6" lengthAdjust="spacingAndGlyphs">4</text>
<text x="1053.3" y="239.3" font-size="12.2" font-weight="bold" fill="#1a1a1a" textLength="4.8" lengthAdjust="spacingAndGlyphs">4</text>
<text x="1049.3" y="269.3" font-size="12.2" font-weight="bold" fill="#1a1a1a" textLength="4.8" lengthAdjust="spacingAndGlyphs">4</text>
<text x="836.7" y="361.7" font-size="12.2" font-weight="bold" fill="#1a1a1a" textLength="5.0" lengthAdjust="spacingAndGlyphs">7</text>
<text x="577.0" y="366.3" font-size="12.2" font-weight="bold" fill="#1a1a1a" textLength="42.2" lengthAdjust="spacingAndGlyphs">14, 15, 17</text>
<text x="630.3" y="366.3" font-size="10.5" font-weight="bold" fill="#1a1a1a" textLength="18.0" lengthAdjust="spacingAndGlyphs">5, 14</text>
<text x="738.3" y="378.3" font-size="12.2" font-weight="bold" fill="#1a1a1a" textLength="21.7" lengthAdjust="spacingAndGlyphs">5, 14</text>
<text x="610.8" y="400.0" font-size="12.2" font-weight="bold" fill="#1a1a1a" textLength="26.2" lengthAdjust="spacingAndGlyphs">14, 15</text>
<text x="585.3" y="467.5" font-size="12.2" font-weight="bold" fill="#1a1a1a" textLength="10.0" lengthAdjust="spacingAndGlyphs">14</text>
<text x="800.0" y="389.2" font-size="12.2" font-weight="bold" fill="#1a1a1a" textLength="42.5" lengthAdjust="spacingAndGlyphs">14, 15, 16</text>
<text x="740.0" y="489.2" font-size="12.2" font-weight="bold" fill="#1a1a1a" textLength="5.0" lengthAdjust="spacingAndGlyphs">5</text>
<text x="765.0" y="490.8" font-size="12.2" font-weight="bold" fill="#1a1a1a" textLength="5.0" lengthAdjust="spacingAndGlyphs">5</text>
<text x="803.0" y="490.8" font-size="12.2" font-weight="bold" fill="#1a1a1a" textLength="5.0" lengthAdjust="spacingAndGlyphs">5</text>
<text x="856.2" y="504.2" font-size="12.2" font-weight="bold" fill="#1a1a1a" textLength="5.0" lengthAdjust="spacingAndGlyphs">5</text>
<text x="873.8" y="505.8" font-size="12.2" font-weight="bold" fill="#1a1a1a" textLength="5.0" lengthAdjust="spacingAndGlyphs">5</text>
<text x="927.2" y="429.1" font-size="12.2" font-weight="bold" fill="#1a1a1a" textLength="5.4" lengthAdjust="spacingAndGlyphs">5</text>
<text x="933.3" y="521.7" font-size="12.2" font-weight="bold" fill="#1a1a1a" textLength="5.0" lengthAdjust="spacingAndGlyphs">5</text>
<text x="962.3" y="424.0" font-size="12.2" font-weight="bold" fill="#1a1a1a" textLength="5.4" lengthAdjust="spacingAndGlyphs">5</text>
<text x="986.7" y="421.9" font-size="12.2" font-weight="bold" fill="#1a1a1a" textLength="5.4" lengthAdjust="spacingAndGlyphs">5</text>
<text x="1006.0" y="412.7" font-size="12.2" font-weight="bold" fill="#1a1a1a" textLength="5.2" lengthAdjust="spacingAndGlyphs">5</text>
<text x="1004.9" y="443.1" font-size="12.2" font-weight="bold" fill="#1a1a1a" textLength="4.9" lengthAdjust="spacingAndGlyphs">5</text>
<text x="799.2" y="544.2" font-size="12.2" font-weight="bold" fill="#1a1a1a" textLength="5.8" lengthAdjust="spacingAndGlyphs">8</text>
<text x="553.0" y="533.3" font-size="12.2" font-weight="bold" fill="#1a1a1a" textLength="41.2" lengthAdjust="spacingAndGlyphs">14, 15, 17</text>
<text x="685.8" y="543.3" font-size="10.2" font-weight="bold" fill="#1a1a1a" textLength="18.4" lengthAdjust="spacingAndGlyphs">6, 14</text>
<text x="712.5" y="545.0" font-size="10.2" font-weight="bold" fill="#1a1a1a" textLength="18.3" lengthAdjust="spacingAndGlyphs">6, 14</text>
<text x="585.3" y="565.0" font-size="10.7" font-weight="bold" fill="#1a1a1a" textLength="23.0" lengthAdjust="spacingAndGlyphs">14, 15</text>
<text x="754.7" y="561.3" font-size="12.2" font-weight="bold" fill="#1a1a1a" textLength="42.5" lengthAdjust="spacingAndGlyphs">14, 15, 16</text>
<text x="720.0" y="652.5" font-size="12.2" font-weight="bold" fill="#1a1a1a" textLength="5.0" lengthAdjust="spacingAndGlyphs">6</text>
<text x="761.8" y="656.2" font-size="12.2" font-weight="bold" fill="#1a1a1a" textLength="5.0" lengthAdjust="spacingAndGlyphs">6</text>
<text x="785.5" y="657.6" font-size="12.2" font-weight="bold" fill="#1a1a1a" textLength="5.0" lengthAdjust="spacingAndGlyphs">6</text>
<text x="844.3" y="659.8" font-size="12.2" font-weight="bold" fill="#1a1a1a" textLength="5.0" lengthAdjust="spacingAndGlyphs">6</text>
<text x="844.7" y="579.7" font-size="12.2" font-weight="bold" fill="#1a1a1a" textLength="5.0" lengthAdjust="spacingAndGlyphs">6</text>
<text x="655.8" y="705.0" font-size="12.2" font-weight="bold" fill="#1a1a1a" textLength="10.0" lengthAdjust="spacingAndGlyphs">14</text>
<text x="575.8" y="659.2" font-size="12.2" font-weight="bold" fill="#1a1a1a" textLength="26.7" lengthAdjust="spacingAndGlyphs">14, 15</text>
<text x="574.2" y="684.2" font-size="10.7" font-weight="bold" fill="#1a1a1a" textLength="50.8" lengthAdjust="spacingAndGlyphs">14, 15, 18, 19</text>
<text x="566.7" y="702.5" font-size="12.2" font-weight="bold" fill="#1a1a1a" textLength="26.3" lengthAdjust="spacingAndGlyphs">14, 15</text>
<text x="702.5" y="696.7" font-size="12.2" font-weight="bold" fill="#1a1a1a" textLength="5.0" lengthAdjust="spacingAndGlyphs">9</text>
<text x="746.8" y="841" font-size="11.8" font-weight="bold" fill="#222" textLength="72.2" lengthAdjust="spacingAndGlyphs">1a - assembled</text>
<line x1="528.3" y1="166.7" x2="557.0" y2="177.2" stroke="#1a1a1a" stroke-width="1.5"/>
<line x1="539.0" y1="186.3" x2="567.8" y2="197.2" stroke="#1a1a1a" stroke-width="1.5"/>
<line x1="547.5" y1="200.8" x2="576.3" y2="211.7" stroke="#1a1a1a" stroke-width="1.5"/>
<line x1="538.3" y1="256.7" x2="567.0" y2="267.5" stroke="#1a1a1a" stroke-width="1.5"/>
<line x1="525.3" y1="317.5" x2="554.2" y2="328.7" stroke="#1a1a1a" stroke-width="1.5"/>
<line x1="514.2" y1="390.0" x2="542.5" y2="400.8" stroke="#1a1a1a" stroke-width="1.5"/>
<line x1="491.3" y1="500.3" x2="519.7" y2="510.8" stroke="#1a1a1a" stroke-width="1.5"/>
<line x1="484.2" y1="593.3" x2="492.5" y2="596.3" stroke="#1a1a1a" stroke-width="1.5"/>
<line x1="479.2" y1="613.3" x2="489.7" y2="616.7" stroke="#1a1a1a" stroke-width="1.5"/>
<line x1="194.5" y1="478.0" x2="215.0" y2="495.0" stroke="#1a1a1a" stroke-width="1.5"/>
<line x1="337.8" y1="474.8" x2="359.0" y2="492.3" stroke="#1a1a1a" stroke-width="1.5"/>
<line x1="272.8" y1="636.3" x2="293.0" y2="652.5" stroke="#1a1a1a" stroke-width="1.5"/>
<line x1="410.3" y1="677.3" x2="430.5" y2="693.0" stroke="#1a1a1a" stroke-width="1.5"/>
<line x1="395.0" y1="746.5" x2="415.5" y2="765.4" stroke="#1a1a1a" stroke-width="1.5"/>
<line x1="389.2" y1="782.9" x2="409.6" y2="800.4" stroke="#1a1a1a" stroke-width="1.5"/>
<line x1="390.7" y1="858.8" x2="411.1" y2="874.8" stroke="#1a1a1a" stroke-width="1.5"/>
<line x1="361.5" y1="917.7" x2="381.9" y2="933.2" stroke="#1a1a1a" stroke-width="1.5"/>
<line x1="252.1" y1="803.3" x2="266.7" y2="793.1" stroke="#1a1a1a" stroke-width="1.5"/>
<line x1="252.1" y1="962.3" x2="269.6" y2="977.0" stroke="#1a1a1a" stroke-width="1.5"/>
<line x1="516.2" y1="754.5" x2="536.1" y2="770.6" stroke="#1a1a1a" stroke-width="1.5"/>
<line x1="507.7" y1="799.0" x2="529.2" y2="815.0" stroke="#1a1a1a" stroke-width="1.5"/>
<line x1="502.6" y1="835.6" x2="523.1" y2="851.0" stroke="#1a1a1a" stroke-width="1.5"/>
<line x1="488.2" y1="922.0" x2="510.1" y2="938.1" stroke="#1a1a1a" stroke-width="1.5"/>
<line x1="490.6" y1="1015.0" x2="518.0" y2="1006.5" stroke="#1a1a1a" stroke-width="1.5"/>
<line x1="504.3" y1="1028.7" x2="535.0" y2="1018.5" stroke="#1a1a1a" stroke-width="1.5"/>
<line x1="523.1" y1="1039.0" x2="552.1" y2="1030.4" stroke="#1a1a1a" stroke-width="1.5"/>
<line x1="432.5" y1="1023.6" x2="415.4" y2="1062.2" stroke="#1a1a1a" stroke-width="1.5"/>
<line x1="655.8" y1="193.3" x2="711.7" y2="218.3" stroke="#1a1a1a" stroke-width="1.5"/>
<line x1="791.7" y1="190.8" x2="757.5" y2="213.7" stroke="#1a1a1a" stroke-width="1.5"/>
<line x1="822.5" y1="212.5" x2="788.3" y2="235.0" stroke="#1a1a1a" stroke-width="1.5"/>
<line x1="815.0" y1="230.0" x2="780.0" y2="250.8" stroke="#1a1a1a" stroke-width="1.5"/>
<line x1="670.0" y1="223.3" x2="726.7" y2="248.3" stroke="#1a1a1a" stroke-width="1.5"/>
<line x1="728.3" y1="288.7" x2="756.7" y2="298.3" stroke="#1a1a1a" stroke-width="1.5"/>
<line x1="635.0" y1="290.8" x2="690.0" y2="315.8" stroke="#1a1a1a" stroke-width="1.5"/>
<line x1="770.8" y1="273.3" x2="784.2" y2="306.7" stroke="#1a1a1a" stroke-width="1.5"/>
<line x1="792.5" y1="276.7" x2="805.8" y2="309.2" stroke="#1a1a1a" stroke-width="1.5"/>
<line x1="836.7" y1="277.5" x2="849.2" y2="304.2" stroke="#1a1a1a" stroke-width="1.5"/>
<line x1="881.7" y1="288.3" x2="895.0" y2="315.0" stroke="#1a1a1a" stroke-width="1.5"/>
<line x1="898.3" y1="290.0" x2="911.7" y2="317.5" stroke="#1a1a1a" stroke-width="1.5"/>
<line x1="960.0" y1="247.5" x2="925.0" y2="270.0" stroke="#1a1a1a" stroke-width="1.5"/>
<line x1="955.0" y1="307.5" x2="968.3" y2="333.3" stroke="#1a1a1a" stroke-width="1.5"/>
<line x1="998.7" y1="250.7" x2="977.3" y2="281.3" stroke="#1a1a1a" stroke-width="1.5"/>
<line x1="1026.7" y1="248.7" x2="1005.3" y2="279.3" stroke="#1a1a1a" stroke-width="1.5"/>
<line x1="1050.7" y1="239.3" x2="1040.0" y2="255.3" stroke="#1a1a1a" stroke-width="1.5"/>
<line x1="1047.3" y1="270.0" x2="1036.0" y2="284.7" stroke="#1a1a1a" stroke-width="1.5"/>
<line x1="610.8" y1="368.7" x2="666.7" y2="393.3" stroke="#1a1a1a" stroke-width="1.5"/>
<line x1="735.0" y1="375.8" x2="712.5" y2="390.0" stroke="#1a1a1a" stroke-width="1.5"/>
<line x1="638.3" y1="398.3" x2="694.2" y2="423.3" stroke="#1a1a1a" stroke-width="1.5"/>
<line x1="593.3" y1="470.0" x2="650.0" y2="495.8" stroke="#1a1a1a" stroke-width="1.5"/>
<line x1="796.7" y1="389.2" x2="761.7" y2="411.7" stroke="#1a1a1a" stroke-width="1.5"/>
<line x1="728.3" y1="451.7" x2="740.8" y2="478.3" stroke="#1a1a1a" stroke-width="1.5"/>
<line x1="754.2" y1="453.3" x2="766.7" y2="480.0" stroke="#1a1a1a" stroke-width="1.5"/>
<line x1="791.7" y1="451.7" x2="805.0" y2="479.2" stroke="#1a1a1a" stroke-width="1.5"/>
<line x1="845.0" y1="465.8" x2="858.3" y2="492.5" stroke="#1a1a1a" stroke-width="1.5"/>
<line x1="861.7" y1="467.5" x2="875.8" y2="495.0" stroke="#1a1a1a" stroke-width="1.5"/>
<line x1="925.0" y1="425.0" x2="890.8" y2="446.7" stroke="#1a1a1a" stroke-width="1.5"/>
<line x1="921.7" y1="483.3" x2="935.0" y2="510.0" stroke="#1a1a1a" stroke-width="1.5"/>
<line x1="961.6" y1="426.8" x2="940.4" y2="457.3" stroke="#1a1a1a" stroke-width="1.5"/>
<line x1="985.7" y1="424.0" x2="964.5" y2="455.9" stroke="#1a1a1a" stroke-width="1.5"/>
<line x1="1004.9" y1="412.7" x2="992.8" y2="428.3" stroke="#1a1a1a" stroke-width="1.5"/>
<line x1="1002.7" y1="443.1" x2="991.4" y2="458.7" stroke="#1a1a1a" stroke-width="1.5"/>
<line x1="584.2" y1="535.8" x2="640.0" y2="560.8" stroke="#1a1a1a" stroke-width="1.5"/>
<line x1="711.7" y1="544.2" x2="686.7" y2="558.3" stroke="#1a1a1a" stroke-width="1.5"/>
<line x1="608.3" y1="566.7" x2="664.2" y2="586.7" stroke="#1a1a1a" stroke-width="1.5"/>
<line x1="751.9" y1="556.3" x2="728.5" y2="572.6" stroke="#1a1a1a" stroke-width="1.5"/>
<line x1="708.3" y1="613.3" x2="721.7" y2="641.7" stroke="#1a1a1a" stroke-width="1.5"/>
<line x1="750.5" y1="618.0" x2="764.6" y2="644.9" stroke="#1a1a1a" stroke-width="1.5"/>
<line x1="773.9" y1="619.4" x2="787.7" y2="646.3" stroke="#1a1a1a" stroke-width="1.5"/>
<line x1="840.5" y1="635.0" x2="848.3" y2="649.1" stroke="#1a1a1a" stroke-width="1.5"/>
<line x1="842.6" y1="575.4" x2="808.6" y2="597.4" stroke="#1a1a1a" stroke-width="1.5"/>
<line x1="644.2" y1="666.7" x2="658.3" y2="695.0" stroke="#1a1a1a" stroke-width="1.5"/>
<line x1="571.7" y1="656.7" x2="544.2" y2="665.8" stroke="#1a1a1a" stroke-width="1.5"/>
<line x1="571.7" y1="680.0" x2="543.3" y2="670.8" stroke="#1a1a1a" stroke-width="1.5"/>
<line x1="563.3" y1="695.0" x2="541.7" y2="677.5" stroke="#1a1a1a" stroke-width="1.5"/>
<path d="M631.7,315.0 L660.0,320.0 L720.0,329.2 L780.0,336.7 L825.0,343.3 L841.7,347.5 L940.0,356.7 L1050.0,367.3 L1054.7,365.5" stroke="#1a1a1a" stroke-width="1.5" fill="none" stroke-linejoin="round"/>
<path d="M595.0,496.7 L620.0,503.0 L670.0,510.0 L740.0,519.2 L790.0,525.0 L805.0,530.0 L900.0,538.8 L1014.0,550.8 L1017.6,548.5" stroke="#1a1a1a" stroke-width="1.5" fill="none" stroke-linejoin="round"/>
<path d="M572.5,660.0 L581.7,663.3 L650.0,672.0 L703.3,680.8 L707.5,682.5 L740.0,684.2 L843.3,694.5 L845.4,692.2" stroke="#1a1a1a" stroke-width="1.5" fill="none" stroke-linejoin="round"/>
<path d="M704.0,172.8 Q701.5,172.5 701.2,175.0 L700.0,186.8 Q699.8,189.2 697.3,189.0 Q699.8,189.2 699.5,191.7 L698.3,203.5 Q698.0,206.0 700.5,206.3" stroke="#1a1a1a" stroke-width="1.3" fill="none"/>
<path d="M658.0,346.1 Q655.5,345.8 655.2,348.3 L653.8,360.4 Q653.5,362.9 651.0,362.6 Q653.5,362.9 653.2,365.4 L651.8,377.5 Q651.5,380.0 654.0,380.3" stroke="#1a1a1a" stroke-width="1.3" fill="none"/>
<path d="M679.0,523.2 Q681.5,523.3 681.4,525.8 L680.6,537.5 Q680.5,540.0 683.0,540.1 Q680.5,540.0 680.4,542.5 L679.6,554.2 Q679.5,556.7 677.0,556.6" stroke="#1a1a1a" stroke-width="1.3" fill="none"/>
<path d="M465.5,626.4 Q462.5,626.0 462.1,629.0 L459.9,648.4 Q459.5,651.4 456.5,651.0 Q459.5,651.4 459.1,654.3 L456.9,673.7 Q456.5,676.7 459.5,677.1" stroke="#1a1a1a" stroke-width="1.3" fill="none"/>
<path d="M473.7,689.2 Q470.5,688.7 470.0,691.9 L464.5,723.2 Q464.0,726.4 460.8,725.8 Q464.0,726.4 463.5,729.5 L458.0,760.8 Q457.5,764.0 460.7,764.5" stroke="#1a1a1a" stroke-width="1.3" fill="none"/>
<path d="M253.7,741.3 Q257.5,741.9 256.9,745.7 L248.3,799.8 Q247.8,803.5 251.5,804.1 Q247.8,803.5 247.2,807.3 L238.6,861.4 Q238.0,865.2 234.2,864.6" stroke="#1a1a1a" stroke-width="1.3" fill="none"/>
<path d="M288.4,923.6 Q285.0,923.0 284.4,926.4 L276.1,974.2 Q275.5,977.6 272.1,977.1 Q275.5,977.6 274.9,981.1 L266.6,1028.9 Q266.0,1032.3 269.4,1032.9" stroke="#1a1a1a" stroke-width="1.3" fill="none"/>
<path d="M867.5,629.5 C866.8,631.2 864.5,635.2 863.0,640.0 C861.5,644.8 860.2,649.7 858.5,658.0 C856.8,666.3 854.3,680.0 852.5,690.0 C850.7,700.0 849.2,708.3 847.5,718.0 C845.8,727.7 844.2,738.2 842.5,748.0 C840.8,757.8 839.2,767.8 837.5,777.0 C835.8,786.2 834.0,795.3 832.5,803.0 C831.0,810.7 829.6,818.2 828.3,823.0 C827.0,827.8 825.4,829.5 824.5,832.0 C823.6,834.5 823.2,835.3 822.8,838.0 C822.4,840.7 822.5,844.0 822.2,848.0 C821.9,852.0 821.8,856.7 821.2,862.0 C820.6,867.3 819.6,873.3 818.5,880.0 C817.4,886.7 816.6,891.7 814.8,902.0 C813.0,912.3 810.0,928.2 807.5,942.0 C805.0,955.8 802.1,972.0 800.0,985.0 C797.9,998.0 796.3,1010.8 795.0,1020.0 C793.7,1029.2 792.4,1035.5 792.3,1040.0 C792.2,1044.5 794.1,1045.8 794.5,1047.0" stroke="#1a1a1a" stroke-width="1.6" fill="none"/>
</svg></body></html>
